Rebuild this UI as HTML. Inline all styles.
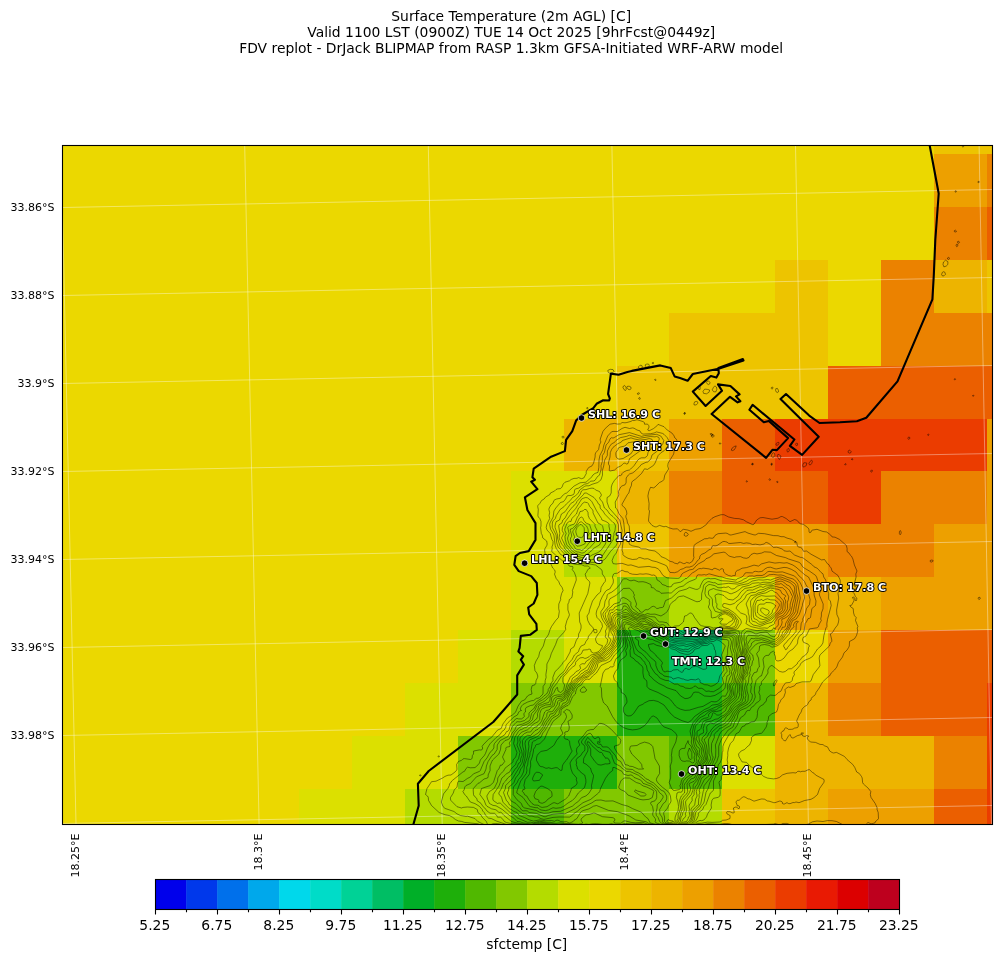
<!DOCTYPE html>
<html lang="en"><head><meta charset="utf-8"><title>Surface Temperature (2m AGL) [C]</title>
<style>html,body{margin:0;padding:0;background:#fff;overflow:hidden}svg{display:block}text{font-family:"DejaVu Sans","Liberation Sans",sans-serif;fill:#000}.t{font-size:13.89px;text-anchor:middle}.k{font-size:11px}.s{font-size:11.1px;font-weight:bold;fill:#fff;stroke:#000;stroke-width:2px;paint-order:stroke;stroke-linejoin:round}.g{stroke:#fff;stroke-opacity:.55;stroke-width:.7;fill:none}.c{stroke:#000;stroke-opacity:.6;stroke-width:.75;fill:none;stroke-linejoin:round}.b{stroke:#000;stroke-width:2.1;fill:none;stroke-linejoin:round;stroke-linecap:round}.d{fill:#000;stroke:#fff;stroke-width:.7}</style></head><body>
<svg width="1001" height="962" viewBox="0 0 1001 962">
<rect width="1001" height="962" fill="#fff"/>
<text class="t" x="511.2" y="21">Surface Temperature (2m AGL) [C]</text>
<text class="t" x="511.2" y="37">Valid 1100 LST (0900Z) TUE 14 Oct 2025 [9hrFcst@0449z]</text>
<text class="t" x="511.2" y="53">FDV replot - DrJack BLIPMAP from RASP 1.3km GFSA-Initiated WRF-ARW model</text>
<defs><clipPath id="ax"><rect x="62.5" y="145.5" width="930" height="679"/></clipPath></defs>
<g clip-path="url(#ax)" shape-rendering="crispEdges">
<rect x="60" y="140" width="940" height="690" fill="#EBD800"/>
<rect x="934" y="101" width="106" height="53" fill="#EDC400"/>
<rect x="934" y="154" width="53" height="53" fill="#EDA000"/>
<rect x="987" y="154" width="53" height="53" fill="#EB8200"/>
<rect x="934" y="207" width="53" height="53" fill="#EB8200"/>
<rect x="987" y="207" width="53" height="53" fill="#EB5F00"/>
<rect x="775" y="260" width="53" height="53" fill="#EDC400"/>
<rect x="881" y="260" width="53" height="53" fill="#EB8200"/>
<rect x="934" y="260" width="53" height="53" fill="#EDB400"/>
<rect x="987" y="260" width="53" height="53" fill="#EDC400"/>
<rect x="669" y="313" width="159" height="53" fill="#EDC400"/>
<rect x="881" y="313" width="159" height="53" fill="#EB8200"/>
<rect x="617" y="366" width="211" height="53" fill="#EDC400"/>
<rect x="828" y="366" width="212" height="53" fill="#EB5F00"/>
<rect x="564" y="419" width="53" height="52" fill="#EDB400"/>
<rect x="617" y="419" width="52" height="52" fill="#EDC400"/>
<rect x="669" y="419" width="53" height="52" fill="#EDA000"/>
<rect x="722" y="419" width="53" height="52" fill="#EB5F00"/>
<rect x="775" y="419" width="212" height="52" fill="#EB3C00"/>
<rect x="987" y="419" width="53" height="52" fill="#EDA000"/>
<rect x="511" y="471" width="106" height="53" fill="#DCE000"/>
<rect x="617" y="471" width="52" height="53" fill="#EDB400"/>
<rect x="669" y="471" width="53" height="53" fill="#EB8200"/>
<rect x="722" y="471" width="106" height="53" fill="#EB5F00"/>
<rect x="828" y="471" width="53" height="53" fill="#EB3C00"/>
<rect x="881" y="471" width="106" height="53" fill="#EB8200"/>
<rect x="987" y="471" width="53" height="53" fill="#EDA000"/>
<rect x="511" y="524" width="53" height="53" fill="#DCE000"/>
<rect x="564" y="524" width="53" height="53" fill="#B4DC00"/>
<rect x="617" y="524" width="52" height="53" fill="#EDC400"/>
<rect x="669" y="524" width="159" height="53" fill="#EDA000"/>
<rect x="828" y="524" width="106" height="53" fill="#EB8200"/>
<rect x="934" y="524" width="106" height="53" fill="#EDA000"/>
<rect x="511" y="577" width="106" height="53" fill="#DCE000"/>
<rect x="617" y="577" width="52" height="53" fill="#82C800"/>
<rect x="669" y="577" width="53" height="53" fill="#B4DC00"/>
<rect x="722" y="577" width="53" height="53" fill="#DCE000"/>
<rect x="775" y="577" width="53" height="53" fill="#EDA000"/>
<rect x="828" y="577" width="53" height="53" fill="#EDB400"/>
<rect x="881" y="577" width="159" height="53" fill="#EDA000"/>
<rect x="458" y="630" width="53" height="53" fill="#DCE000"/>
<rect x="511" y="630" width="53" height="53" fill="#B4DC00"/>
<rect x="564" y="630" width="53" height="53" fill="#DCE000"/>
<rect x="617" y="630" width="52" height="53" fill="#1EAF0A"/>
<rect x="669" y="630" width="53" height="53" fill="#00BE64"/>
<rect x="722" y="630" width="53" height="53" fill="#82C800"/>
<rect x="828" y="630" width="53" height="53" fill="#EDA000"/>
<rect x="881" y="630" width="159" height="53" fill="#EB5F00"/>
<rect x="405" y="683" width="106" height="53" fill="#DCE000"/>
<rect x="511" y="683" width="106" height="53" fill="#82C800"/>
<rect x="617" y="683" width="105" height="53" fill="#1EAF0A"/>
<rect x="722" y="683" width="53" height="53" fill="#50B800"/>
<rect x="775" y="683" width="53" height="53" fill="#EDB400"/>
<rect x="828" y="683" width="53" height="53" fill="#EB8200"/>
<rect x="881" y="683" width="106" height="53" fill="#EB5F00"/>
<rect x="987" y="683" width="53" height="53" fill="#EB3C00"/>
<rect x="352" y="736" width="106" height="53" fill="#DCE000"/>
<rect x="458" y="736" width="53" height="53" fill="#82C800"/>
<rect x="511" y="736" width="106" height="53" fill="#1EAF0A"/>
<rect x="617" y="736" width="52" height="53" fill="#82C800"/>
<rect x="669" y="736" width="53" height="53" fill="#50B800"/>
<rect x="722" y="736" width="53" height="53" fill="#DCE000"/>
<rect x="775" y="736" width="159" height="53" fill="#EDB400"/>
<rect x="934" y="736" width="53" height="53" fill="#EB8200"/>
<rect x="987" y="736" width="53" height="53" fill="#EB3C00"/>
<rect x="299" y="789" width="106" height="53" fill="#DCE000"/>
<rect x="405" y="789" width="106" height="53" fill="#B4DC00"/>
<rect x="511" y="789" width="53" height="53" fill="#50B800"/>
<rect x="564" y="789" width="105" height="53" fill="#82C800"/>
<rect x="669" y="789" width="53" height="53" fill="#B4DC00"/>
<rect x="722" y="789" width="53" height="53" fill="#EDC400"/>
<rect x="775" y="789" width="53" height="53" fill="#EDB400"/>
<rect x="828" y="789" width="106" height="53" fill="#EDA000"/>
<rect x="934" y="789" width="53" height="53" fill="#EB5F00"/>
<rect x="987" y="789" width="53" height="53" fill="#EB3C00"/>
</g>
<g clip-path="url(#ax)">
<path class="g" d="M61.1 145.5 L76 824.4"/>
<path class="g" d="M244.7 145.5 L259.1 824.4"/>
<path class="g" d="M428.3 145.5 L442.2 824.4"/>
<path class="g" d="M611.9 145.5 L625.3 824.4"/>
<path class="g" d="M795.5 145.5 L808.4 824.4"/>
<path class="g" d="M979.1 145.5 L991.5 824.4"/>
<path class="g" d="M62.5 119.5 L992.5 101.5"/>
<path class="g" d="M62.5 207.5 L992.5 189.5"/>
<path class="g" d="M62.5 295.5 L992.5 277.5"/>
<path class="g" d="M62.5 383.5 L992.5 365.5"/>
<path class="g" d="M62.5 471.5 L992.5 453.5"/>
<path class="g" d="M62.5 559.5 L992.5 541.5"/>
<path class="g" d="M62.5 647.5 L992.5 629.5"/>
<path class="g" d="M62.5 735.5 L992.5 717.5"/>
<path class="g" d="M62.5 823.5 L992.5 805.5"/>
<path class="c" d="M484.2 829 482.5 826.5 478 823.8 464.5 822.4 461.5 821.4 458.5 821 455.5 819.6 452.5 817.2 449.5 815.6 445 814.7 439.1 812.5 431.5 805.5 428.5 800.3 428.3 797.5 427.5 796 425.5 794.5 427 788.5 431.5 781.7 436 781.2 442.6 778 445 776.4 448 775.2 451 775 455 772 456.4 770.5 457 769.2 456.6 764.5 458.5 761.4 461.5 760.4 463 758.9 464.5 758.6 470.5 759.5 472.1 758.5 472.4 755.5 473.5 754 473.6 751 479.5 749.9 481 750.1 482.2 749.5 482.7 748 482.1 746.5 483 745 488.5 739.3 491.5 737.4 497.5 730.1 501.2 728.5 502.9 724 507.4 718 512.5 714.9 515.5 712.3 518.1 706 521.5 701.1 524.6 700 527.5 696 529 695 532 694 531.2 689.5 532 685.8 535 684.7 535.7 683.5 536.1 680.5 537.6 677.5 537.8 676 536.8 673 535 670.7 534.3 665.5 536 661 538.7 656.5 539.7 652 543.3 646 545.4 638.5 547 637 548.7 634 550 629.7 551.5 626.5 555.7 620.5 558.4 617.5 559.3 611.5 558.7 608.5 558.8 604 560.7 599.5 560.5 598 561.6 593.5 563.1 590.5 562.1 587.5 559.9 584.5 558.7 581.5 556.2 578.5 554.5 574.1 555.1 572.5 555.1 571 554.5 569.8 552.7 568 550 562 548.2 560.5 547.3 557.5 545.2 554.5 544.6 550 545 548.5 546.8 545.5 547.2 544 546.7 541 542.8 538 542.2 535 541.3 533.5 540.6 527.5 541 526 541 521.5 539.8 518.5 538.3 517 537.9 515.5 538.3 509.5 537.7 506.5 538 505.3 539.8 503.5 541.6 500.5 544.1 499 545.5 497.1 549.9 494.5 550.4 493 554.5 491.1 556 489.5 557.5 488.9 560.5 488.6 562.1 487 563.2 484 565 482.2 569.5 480.8 571.1 479.5 574 478.4 577 478.3 578.5 477.6 581.5 478.7 583.8 478 586.3 473.5 586.1 472 586.7 470.5 588.7 467.5 592 465.9 593.6 463 595.1 457 595.2 454 595.9 452.5 598.6 449.5 599.4 445 600.9 442 600.3 440.5 600.3 439 602.9 431.5 605.2 428.5 610 424.2 614.5 423.4 617.5 424.1 620.5 423.9 622 422.5 625 422.8 626.9 422.5 631 421.4 632.5 420.4 634 420.6 637 419.7 643 421.6 644.4 422.5 644.5 424.2 647.5 424.1 648.7 425.5 649.1 427 647.7 430 649 430.9 653.5 428.6 657.3 425.5 658 424.4 664 426.7 667.2 430 671.9 433 674.2 436 674.5 437.5 676 438.7 676.9 440.5 674.1 451 673.7 454 668.2 463 667.7 466 668.6 469 664.8 475 663.9 479.5 662.5 481.1 659.5 482.5 655 487 653.5 487.9 650.5 487.3 648.8 491.5 647.9 496 649.1 503.5 648.8 509.5 649.5 511 648.5 520 648.8 521.5 652 525.4 655 526.9 656.5 526.8 659.5 525.4 664 526.8 665.5 526.4 667 526.7 668.1 527.5 673 529 677.5 528.8 680.5 531.9 682 530.1 683.5 529.3 688 530.1 691 531.3 695.5 529.3 700 528.6 702.2 527.5 706.4 524.5 707.5 522.8 712 518.3 715 516.7 721 514.7 724 514.7 728.6 517 734.5 518.4 739 518.7 743.5 519.8 746.5 521.8 752.5 524.6 754 524.2 756.7 520 760 517.8 763 517.5 772 519.2 778 518.2 781 516.5 782.5 516.6 786.1 518.5 790 521.7 794.5 519.5 796.2 520 797.5 520.8 799.2 523 800.5 523.8 803.5 524.4 807.6 527.5 808.9 529 809.1 532 809.5 532.6 811 532.2 811.7 530.5 812.5 530.1 817 529.3 823 531.5 826.7 532 830.7 535 832 536.9 835 537.2 839.5 539.4 846.4 545.5 847.1 548.5 847 551.5 849 553 850 554.8 851.5 556.2 852.9 559 854.4 565 857 571 855.8 574 856.1 577 854.5 583 853.7 584.5 854 586 856 586.6 856.3 587.5 854.5 591.8 853 590.3 852.4 592 854.3 593.5 855.3 596.5 856.9 598 856.7 599.5 856 601 855.1 599.5 854.9 598 853 596.9 852.3 598 854.2 599.5 853.9 601 851.5 605.3 849.8 605.5 850.8 607 853.2 608.5 853.6 613 854.5 615.8 856.2 617.5 855.5 620.5 857.9 626.5 857.2 628 857.8 631 856.5 635.5 854.5 638.8 849.5 641.5 849.3 646 848.6 647.5 847 650.1 844 652.9 842.5 657 838.4 662.5 836.8 667 834.5 670 831.2 673 829.5 676 827.3 677.5 822.6 682 819.2 688 816 692.5 815.6 694 814.6 695.5 812.3 697 811.3 698.5 811.1 700 809 701.5 807.6 704.5 806.5 705.6 805 706.1 802.1 709 801.2 712 799.2 715 796.6 721 798.3 724 798.1 727 797.5 727.6 794.5 728.1 793 729.1 791.5 729.3 788.5 729.4 787 728.1 785.5 727.9 784.7 728.5 784 730.5 782 731.5 780.9 733 781.7 734.5 781.7 737.5 782.4 739 784 740.5 785.5 740.9 788.5 736 790 734.5 791.4 737.5 793 738.1 797.5 735.6 801.6 734.5 801 733 803.5 732.9 802.2 734.5 802.8 736 805 736.5 806.5 735.6 808.7 736 807.4 737.5 807.4 739 810.4 742 815.5 742.4 820 744.4 823 744.6 824.5 745.8 827.5 746.9 829.7 751 832 752.5 833.5 753 836.5 752.4 844 756.2 845.5 757.5 847 759.5 852.8 764.5 854.8 767.5 856.7 772 859.3 773.5 861.5 776.5 862.2 778 862.6 782.5 863.4 784 868 788 870.8 791.5 870.3 794.5 871 797.4 875.2 803.5 877 807.5 877.1 809.5 878.2 812.5 878.5 818.5 877.4 820 875.5 821.5 874.8 823 871 823.8 868 822.4 866.5 823.8 865.6 826 862 826.5 859 826.2 853 826.6 850 826.2 845.5 824.6 842.5 824.5 836.5 821.5 832 820.7 827.5 820.6 823 821.5 817 821 812.5 821.8 808 824.2 797.5 826.2 790 824.7 787 823.4 782.5 823.5 781 824.6 779.5 824.9 775 823.5 773.5 824.1 766 824.5 764.5 825.1 758.5 825.7 755.5 824.8 752.5 825.2 749.5 824.8 742 826.5 737.5 826.2 728.5 823.5 724 823.5 719.5 824.4 707.5 823.7 704.5 824.4 698.5 824.2 697 824.7 692.1 829.0"/>
<path class="c" d="M508.3 829 502 825.9 497.5 827.2 494.5 827.2 492.5 829.0"/>
<path class="c" d="M546.9 829 544 827.7 533.2 829.0"/>
<path class="c" d="M553.8 829 550 828.5 544 826.9 530.5 827.9 523 827.7 515.5 826.4 509.5 827.3 506.5 826.7 503.5 825.5 500.5 825.1 496 825.8 494.5 825.6 490 827.5 487 827.3 485.5 826.4 484 824.5 477.8 821.5 474.9 818.5 467.5 816.2 466 816.4 460.4 815.5 457 813.9 454 811.5 445 808.4 443 806.5 441.3 802 443.5 793.9 448 788.3 449.3 785.5 449.5 783.7 451 782.5 451.7 781 463 771.9 464.5 771.3 466 768.6 467.5 767.2 470.5 767.8 475 767.6 478 764.9 479.5 763 480.3 760 484.3 755.5 485.5 753.4 487.5 748 490 743.8 496.2 737.5 500.1 734.5 501.9 731.5 504.2 730 505.9 727 505.9 725.5 506.5 724.4 508.1 722.5 514 716.9 517.4 715 518.8 712 520 710.8 521.5 710.5 520.1 709 521.5 706.1 522.9 704.5 527.5 702.1 532 700.6 533.5 700.6 536.5 698.3 538 698.3 539.5 697.5 543 694 543.1 686.5 545.1 683.5 545.2 680.5 546.1 677.5 545.9 674.5 546.8 668.5 546.9 664 550 657.9 551.3 653.5 555.6 644.5 557.5 639.1 563.7 632.5 565.7 629.5 565.3 626.5 565.7 625 566.9 620.5 569.1 616 569.4 614.5 567.9 610 567.9 604 568.8 602.5 569.4 599.5 571.5 598 572.1 596.5 572.8 592 572.4 590.5 576.3 580 576 577 574.4 572.5 572.2 569.5 573 568 572.7 566.5 569.5 566.2 566.5 562.5 562 560.7 560.7 559 558.3 557.5 551.7 551.5 552.2 548.5 551.9 547 553 544 553 541.4 551.9 539.5 550.2 533.5 547 530 546.2 527.5 546.8 524.5 549.7 518.5 549.1 515.5 549.6 512.5 548.9 509.5 549.2 508 550.9 505 553 503.2 553.9 500.5 554.5 500 556.6 499 560.5 498.2 562 496.1 565 493.5 566.7 493 574 486.1 580 482.8 586 482.2 592 476.7 592.9 475 595 473.4 598 472.4 598.8 467.5 599 460 599.9 455.5 602.9 449.5 603.9 445 607.7 436 611.5 431.8 613 431.4 617.5 431.5 621.9 428.5 625 427.3 629.5 428.5 632.5 427.9 634 428.2 637 430 640 430.9 641 433 643 434.1 650.5 433.7 654.1 433 656.5 431.9 662.5 433.4 664 434.3 667.1 437.5 668.8 440.5 668.9 442 668.5 444.9 666.8 448 664 450.8 661.2 452.5 658.2 455.5 655.1 463 653.5 465.4 647.5 469.4 644.5 468.8 641.5 473.5 635.5 479.1 632.5 481.2 631.7 482.5 631.4 485.5 630 488.5 628.8 493 627.5 494.5 622 504.2 622 505.3 625 508 626.5 511 626.9 514 626 515.5 625.8 517 627 520 627.5 523 629.2 526 629.8 533.5 628.4 541 629.5 544.4 632.5 545.8 638.5 547 641.5 548.8 646 548.9 649 550.1 655 551 659.5 554.5 661 556.6 665.5 558.4 670 561.3 673 562 674.5 563.1 677.5 563.8 678.2 563.5 679 562 680.5 562.2 683.5 563.6 685 563.5 686.5 562.4 689.5 563.2 692.5 561.2 694 557.5 693.6 556 693.8 547 694.2 545.5 695.4 544 704.5 538.8 707.5 538.6 709 537.9 712 538.3 713.4 538 715 535.4 718 533.7 725.5 533.1 727 533.3 730 535 731.5 534.9 745 531.6 748 533.1 754 534.9 755.5 534.9 758.5 533.3 764.5 533.7 773.5 535.6 778 535.7 781 536.7 784 536.7 787 538.1 791.5 539.3 794.5 541.2 796 541.6 796.7 542.5 797.5 546.3 799 547.2 800.5 547.4 802.1 548.5 803.5 551.3 806.5 551 811 554.2 821.5 559.9 824.5 559.5 827.5 563.8 829 564.8 829.8 566.5 831.2 568 832 571.1 838 575.5 840.2 580 840.3 583 839.5 587.5 839.5 590.5 838.3 592 838 593.5 838.7 598 836.6 610 836.9 614.5 838.9 619 838.5 622 837.6 625 835.2 628 832.5 632.5 830.3 634 831.8 640 831.7 641.5 830.3 643 829.4 646 819.9 655 819.2 658 819.9 665.5 819.2 667 813.3 674.5 811 680.9 809.5 681.8 802 681.9 796.2 683.5 794.5 685.8 790 687.5 788.5 686.9 785.5 688.9 785 689.5 785.4 692.5 783.8 697 780.8 700 780.4 701.5 778.5 704.5 777.7 709 776.5 712 772 713.7 768.6 716.5 768.3 719.5 767 722.5 767.1 724 766.2 727 763 731.8 761.5 733.2 755 734.5 751.4 737.5 751.5 740.5 749.5 745.1 748 746 744.6 749.5 741.1 751 738.5 754 739 756.6 742 761.9 746.5 762.4 749.5 765.5 752.5 767.7 755.5 769.1 759.7 773.5 761.5 774.4 763.7 776.5 767.5 778.1 773.5 778.9 776.5 778.5 779.5 777.4 782.5 774.9 787 773.3 793 772.7 796 773 797.5 771.5 799 771.2 800.5 771.8 802 771.3 805 771.3 808 769.8 809.5 769.7 812.5 772.5 814 773.2 815.5 775 824 779.5 824.2 781 823.8 782.5 819.6 788.5 817.5 794.5 814 797.6 811 799.3 804.6 800.5 799 802.7 796 802 794.5 802.6 793 802.5 790 803.7 788.3 803.5 787 802.6 784 804.2 782.4 803.5 782.3 802 781 801.2 779.5 801.1 775 802.7 773.5 802.6 769 801.1 767.5 801 764.5 799.2 762.7 799 761.2 799 754 801.2 749.6 799 748 798.9 745 797 743.5 796.8 742.1 797.5 739 800.4 737.5 800.1 735.9 802 737.5 806 739 805.8 739.5 806.5 739.5 808 739 808.8 736 806.9 733.4 808 734.3 812.5 733 813.1 730 811.7 727 811.7 726.5 812.5 727 813.9 730.1 815.5 730 818.5 726.1 820 722.5 820.3 721.1 821.5 719.5 822 712 822.4 707.5 822.1 701.5 823.2 697 823.4 692.5 827.2 689.7 829.0"/>
<path class="c" d="M776.5 679.8 775.4 680.5 773.4 683.5 773.5 685.9 775 685.2 775.4 683.5 776.5 682.1 777 680.5Z"/>
<path class="c" d="M574 829 565 828.2 562 828.6 556 828.3 550 827.4 545.5 826.1 538 826.1 532 827 523 826.7 515.5 825.5 509.5 826.1 497.5 823.6 493 823.7 490 825.1 488.5 825.1 487.6 824.5 486.3 821.5 482 817 481 814.9 477.9 812.5 477.3 809.5 473.5 807.4 467.5 807 463 807.4 461.5 808 457 806.7 451 800.6 450.4 799 450.5 797.5 453.3 793 454.2 790 457 787.1 457.7 782.5 458.5 781.2 463 781.6 467.5 778.4 470.5 776.9 473.5 773.8 479.5 771.4 480.3 770.5 484.1 761.5 487 757.9 490 752.3 491.5 751.2 493.9 748 493.9 745 494.5 743.5 498.4 739 505 734.5 506.5 731.6 508 731.2 509 730 510.6 724 511.7 722.5 514 721.1 515.5 719 517 718.4 518.5 718.9 521.5 718.9 522.9 718 524.3 716.5 523.8 713.5 525.5 712 525.3 709 526.2 707.5 530.5 705.5 533.5 705 536.6 701.5 541.3 698.5 544 695.8 546.6 694 548.2 691 548.2 689.5 550.2 686.5 551 683.5 553 680.5 552.8 677.5 555.1 671.5 557.5 669.4 562 664.3 563 662.5 566 659.5 570.1 652 570.7 649 574 646.8 576.4 640 578.5 637 578.6 634 580.2 631 581.1 628 581 625 579.7 622 579.2 613 587.8 593.5 589.9 583 589.4 581.5 586.4 578.5 585.1 574 586.4 572.5 587.8 569.5 590.3 568 588.7 566.5 587.5 566 584.5 566 581.5 564.7 575.5 564.4 572.1 563.5 566.5 559 563.5 555.9 560.5 554.4 556.3 548.5 555.2 545.5 553.9 535 550.5 529 549.7 524.5 549.9 523 553.2 517 553.9 511 555.8 508 560.5 502.5 563.5 501.6 565.6 499 567 496 568 495.6 571 495.5 573.5 494.5 574.3 493 574.6 490 575.5 488.9 578.5 488.2 584.5 484.2 587.5 483.6 589.3 482.5 590.5 481.2 593.5 481 595 480.3 597.5 476.5 599.5 475.1 601.2 469 601 465.7 602.3 461.5 602.4 455.5 604.4 452.5 606.1 445 608.8 442 610 438.9 611.5 437.7 613 438.1 614.5 437.4 619 434.7 629.5 432.6 641.5 436.4 644.5 435.6 656.5 434.3 660.8 436 663.8 440.5 662.9 443.5 661 446.3 658 447.9 657.4 451 652 455 651 458.5 650 460 647.5 462.1 646 462.3 641.3 464.5 638.9 467.5 634 472 632.5 473 629.5 474 628.3 475 626.2 478 626.1 482.5 625.5 484 625 484.8 622 485.9 620.7 487 618.4 491.5 618.8 494.5 618.5 496 615.2 502 615.6 508 617.3 509.5 619.1 514 622.9 518.5 623.8 523 625.1 536.5 623 542.5 622 550 623 553 622.9 554.5 624.1 556 628 558.3 632.5 559.5 637 559.1 638.5 557.8 640 557.5 644.5 559 647.5 558.7 649 559.2 652 560.7 656.5 561.7 665 565 667 566.3 668.5 570.3 670 572.4 674.5 572.7 677.5 571.8 680.5 569.5 683.5 568.6 685 567.6 686.5 567.1 689.5 567.1 692.5 566 695.5 563.5 697 561.1 699.4 559 700 556 701.5 554.4 704.9 553 709 549.8 710.5 549.4 711.4 548.5 712 546.3 713.5 545.6 715 545.9 717.1 545.5 722.5 541.8 724 541.4 725.5 541.7 727 542.1 728.5 543.3 730 543.5 740.5 542.5 743.5 543.4 746.5 542.9 749.5 543.3 752.5 544.5 755.5 544.2 760 544.9 764.1 544 766 542.3 766.7 542.5 769 543.5 773.5 547.4 776.5 547.2 778 547.5 782.5 549.1 784 550.8 787 551.3 790 551 794.5 555 800.5 557.4 802 557.4 803.5 558.3 812.5 565 814 566.8 817 568.1 818.5 569.5 821.1 572.5 823 573.9 823.7 577 825.7 580 827 586 827.2 589 828.7 593.5 828.6 598 828.9 599.5 830.4 601 831.2 605.5 827.5 619.5 826.8 623.5 826.9 626.5 825.9 628 823.9 635.5 822.9 643 821 646 817.5 649 812.5 656.6 809.5 658.4 805 660.2 801.7 662.5 800.5 664 799.9 665.5 796.1 670 794.3 671.5 793.9 673 794.5 674.5 792.7 677.5 792.2 680.5 791.5 681.4 790 682.4 785.5 682.9 783 686.5 781 691.1 778.5 692.5 776.5 694.6 775 695.5 770.5 695.1 767.5 697.3 766.7 698.5 766.1 701.5 764.5 702.6 763.4 704.5 760.4 706 758.2 709 757.3 712 757.5 713.5 757 717.4 755 721 754 721.6 751 722 748 723.8 745.9 724 745 725.6 742 726.8 739 732.2 736 733.8 733.3 740.5 730.4 743.5 728.6 748 727.7 752.5 727.8 755.5 727.2 760 727.8 763 727.2 764.5 727 767.8 725.4 770.5 725.1 772 721.3 776.5 721.3 779.5 719.7 781 719 782.5 720 787 720.2 793 719.9 796 718 797.4 713.5 798.3 712 800.2 711.1 805 711.5 808 707.5 814 706.5 817 703.9 820 701.5 820.7 700 820.4 698.5 821 695.5 822.8 692.8 826 691 827.3 685.7 829.0"/>
<path class="c" d="M578.9 829 571 827.1 557.5 827.4 550 826.4 545.5 825.3 538 825.4 532 826.3 523 825.7 515.5 824.6 506.4 824.5 496 820.9 491.5 818.6 488.5 818.1 485.5 815.2 484.2 812.5 482.7 811 482.2 809.5 479.5 806.4 475 803.6 470.3 802 466.3 796 464.6 794.5 462.9 791.5 464.1 790 464.8 787 466 785.5 470.5 783.5 476.5 776.8 484 773.7 486 769 486.4 766 488.1 761.5 492 755.5 494.2 754 497.1 749.5 497.3 745 500.2 740.5 508 736.5 512.5 726.3 516 722.5 517 721.7 520 721.9 524.5 720.5 529 716.6 529 713.1 532 710 533.6 709 536.1 704.5 539.5 701.5 542.5 699.9 547 696.5 549.1 694 551 688 553 684.3 557.7 677.5 559 675.7 564 671.5 568 664.1 572.1 659.5 574.4 655 578.5 651.6 579.3 649 581.1 646 584.6 644.5 585.9 641.5 588.1 638.5 588.2 637 588.9 635.5 590.7 634 593.5 629.7 594.2 632.5 595 632.9 596.7 632.5 597.1 631 596.5 629.6 593.5 629.4 593.2 628 592.1 626.5 590.1 625 587.8 620.5 587 616 589 613 589.5 610 592.5 601 597 595 600.5 592 601.1 587.5 603.8 583 605.2 581.5 605.5 579.6 604.5 577 602.3 574 602.2 571 601.4 569.5 595.5 565 589 563.9 583 563.7 580 562.7 575.5 562.1 571 559.7 566.5 556.2 558.1 547 556.7 542.5 556.1 535 552.3 527.5 552.3 523 553 520.9 555.3 518.5 556.3 515.5 560.1 509.5 564.2 506.5 566.5 503.8 570.3 500.5 572.5 497.5 575.5 495.9 578.3 493 579.7 490 584.5 486.4 586 485.8 589 485.8 592 484.3 597.8 482.5 601 479.8 602.5 475 602.4 470.5 603.7 466 604.7 460 607.3 455.5 607.4 451 609.6 446.5 611.5 443.9 614.5 442.4 616 440.4 620.5 437.6 626.5 436.4 629.5 435.2 640 438.2 650.5 436.5 655 436.9 656.5 436.4 658.9 437.5 659.3 439 658 442.5 655 445.6 652 446.9 650.9 449.5 648.8 451 648 452.5 647.5 455.4 646.1 457 644.5 457.8 641.5 457.8 639.7 458.5 637.9 460 634 465.7 630.7 469 629.5 470 626.5 470.6 623.5 472.1 622.1 473.5 621.6 475 620.5 475.6 619 475.4 614.5 480.3 612.2 484 611.3 487 611.2 493 609.7 496 607.1 497.5 607 502 609.1 508 619.7 520 622.1 530.5 621.5 535 621.8 538 620.7 541 620.5 544 618 548.5 616.3 553 613.9 556 612.7 559 612.1 560.5 613 563.6 616 564 622 563.3 628 565.3 631 564.9 638.5 567.3 649 566.4 652 567.2 655 567.4 658 568.8 659.5 570.1 663 575.5 667 577.9 677.5 578.4 679 578.2 680.5 577 681.9 574 683.5 572.8 689.5 569.9 692.5 569.4 694 568.5 695.4 566.5 698.5 563.8 704.5 560.6 706 558.7 709 557.6 711.7 556 713.5 553.9 724 552.1 725.5 552.8 728.5 555.6 730 556.4 734.5 557.5 736 556.9 740.5 556.6 743.5 557.9 746.5 558.3 748.8 557.5 751 554.6 754 553.2 757 553.9 761.5 553.1 764.5 551.8 770.5 552.2 776.5 555.5 785.5 557.6 788.5 559 799 562.3 800.7 563.5 802.4 566.5 804.2 568 809.5 571.1 815.5 575.3 816.6 577 818 581.5 820.8 586 820.9 590.5 819.4 593.5 819.4 595 823.2 604 823 608.8 821.4 613 821.4 616 820.7 619 821.3 620.5 818.8 625 818.5 626.6 817 627.8 809.5 628.9 806.4 635.5 805 636.7 803.5 637 802.8 638.5 802.5 640 803.5 642.3 808 644.1 809.5 646 808.5 647.5 807.9 652 805.6 655 802 657.3 800.6 659.5 797.7 662.5 797.2 664 793 667.5 791.5 668.7 788.5 668.9 785.5 671.3 784 671.9 782.5 672.1 779.5 671.4 772 665.4 770.5 665.9 769 667.7 767.8 670 768 673 764.5 678.4 761.3 682 761.5 684.2 759.6 686.5 759.7 689.5 758.8 692.5 760 695.5 760.1 700 758.7 701.5 756.1 703 754 705.8 751.3 707.5 749.7 710.5 748 710.3 746.5 711.2 744.5 715 740.5 717.8 737 725.5 735 728.5 729 734.5 723.9 743.5 722.9 746.5 722.9 751 722.3 752.5 721.8 758.5 720 763 718.3 764.5 717.6 769 716.5 771.1 716.2 775 713.5 781 713.5 790 712.4 791.5 710.3 793 706 804.4 703.9 806.5 702.7 809.5 698.8 812.5 698.2 814 698.4 815.5 696.3 820 693.5 823 691.4 826 689.5 827 683.5 828 680.7 829.0"/>
<path class="c" d="M656.7 829 653.5 828.2 646 828.2 644.5 827.5 641.5 827.2 638.5 827.9 637 827.2 632.5 826.8 628 827.4 626.5 829.0"/>
<path class="c" d="M627.1 439 631 437.8 634 438.9 640 440.1 646 439.4 649 438.6 651.6 439 652.5 440.5 652 441.4 649 443.4 647.5 445.1 644.5 447 643 449.9 639.9 451 629.6 458.5 628 463.5 626.5 464 625 463 623.5 463.4 620.9 466 617.5 467.4 614.5 470.1 610 471 609.2 470.5 609.6 466 608.7 464.5 608.4 463 610 457 610.3 452.5 611.6 449.5 613 447.4 617.5 443.9 621.4 442 622.4 440.5Z"/>
<path class="c" d="M589.5 488.5 592 488.1 594.1 488.5 595.6 490 599.5 491.5 601.3 494.5 601.1 496 599.7 497.5 599.9 499 602.5 502 604.4 508 607 510 609.7 514 613 516.6 616.3 520 618.4 524.5 618.7 533.5 618.2 535 618.6 538 617 544 616.1 545.5 610.5 551.5 605.2 559 601 561.7 596.5 562.5 586 562.2 577 560.7 569.4 556 560.5 547 559.8 545.5 557.5 538 557.6 535 555.1 527.5 555 526 556 521.7 559.5 520 561.4 514 565 511.8 570.8 503.5 574 501.6 579 496 580.1 494.5 581.5 491 583 489.8 586 489.6Z"/>
<path class="c" d="M582.4 829 577 827.1 572.5 826.1 565 825.9 557.5 826.5 544 824.5 538 824.6 532 825.6 512.5 823.7 506.5 822.6 504.4 821.5 502.2 818.5 500.5 817.2 497.5 817.2 496.8 815.5 494.5 813.3 490 813.2 487 811 484.8 808 482.9 806.5 481 803.4 477 800.5 477 799 476 797.5 474.1 796 473.5 794.5 473.2 790 473.4 788.5 478 783.3 479.5 782.8 484 779 487.6 778 488.2 776.5 488.1 775 490.1 770.5 490 766 491.8 761.5 492.6 760 498.9 754 500.5 749.5 501 745 505 740.5 508 739.6 509.5 738.6 512.1 733 514.8 730 515.9 727 517 725.5 522.7 724 529 721 530.1 719.5 531.6 713.5 535 710.1 536.6 706 538 704.5 542.5 702.4 545.5 700.5 548.5 697.4 551.2 694 553 688 556.7 683.5 561.5 676 565.2 673 569.1 667 572 664 575.3 659.5 577 656.1 580 654.7 581.5 653.5 583 650.1 587.5 649.7 589 649 590.5 649.5 591.3 652 593.5 653.1 595 652.9 598 651.9 599.7 650.5 601.9 647.5 602.5 645.7 598.9 644.5 596.8 643 595.6 640 595.6 638.5 598.1 634 599.7 632.5 602.5 626.5 601.9 623.5 599.5 620 597 617.5 596.2 614.5 596.2 613 596.9 610 599.2 605.5 600.3 601 602.4 596.5 605.5 591.4 607 590.1 609.7 589 613.2 583 613.4 580 612.4 577 613.6 574 614.5 573.5 617.5 573.2 622 570.1 625 571.6 628 571.9 629.5 573.3 632.5 574.2 637 574.5 640 573.9 643 574.2 646 573.8 649 574.2 652 575.3 653.5 575 655.2 575.5 656.3 577 657.1 580 659.9 581.5 662.3 584.5 665.5 585.5 667 586.5 670 586.9 671.5 586.4 672.5 584.5 674.5 583.3 680.5 582.2 683.5 580.3 685 578.7 686.8 578.5 692.5 572.7 694 572.1 698.5 568.9 700 568.5 701.5 568.7 703 568.1 709 568.9 712 569.8 713 569.5 713.5 568.6 715 568.2 719.5 570.2 721 568.8 722.5 568.8 723.5 569.5 723.4 571 724.1 572.5 725.5 573.9 728.6 575.5 731.5 576.2 733 575.6 735.3 575.5 735.5 572.5 736 571.5 737.5 570.3 739 570 742 568.2 746.5 567.6 754 565.1 758.5 566.1 761.5 563.9 769 561.9 775 563.1 779.5 562.6 784 563.1 787 562.7 793 565.1 796 567.1 805 575 808.5 577 812.9 586 814.1 590.5 814.1 595 816 601 815.5 605.5 811.9 608.5 810.5 617.5 809.5 618.3 808 618.7 806.4 622 805.1 623.5 804.1 631 802.2 634 799.9 635.5 798.9 637 797.8 640 797.6 643 796.8 644.5 793 649 788.5 651.9 784 658.1 781 660.3 778 661 776.5 660.6 775.6 659.5 775.4 656.5 774.2 653.5 774.5 652 773.5 651.2 770.5 652.6 769 655.2 766 655.5 764.5 656.5 763.5 658 763 659.5 764.1 667 761.5 675.8 760 676.2 756.1 680.5 754.4 688 754.3 691 755.3 697 753.5 701.5 751 704.5 746.5 707.8 740.5 710.3 739.1 712 737.7 715 737.3 718 734.5 722.5 733 727 728.2 730 721.6 739 719.5 743.8 718.7 746.5 718.7 755.5 716.8 761.5 714.7 764.5 714.4 773.5 709.8 782.5 708.2 788.5 706 792.3 704.1 802 703.4 803.5 701.5 805.8 700 808.5 696.5 811 695.7 812.5 694.4 820 691 824.6 689.5 826 683.5 826.3 680.5 827.6 678.7 829.0"/>
<path class="c" d="M659 829 655 827.5 646 826.8 644.5 826 632.5 825.7 628 826 625 826.7 624.3 827.5 623.9 829.0"/>
<path class="c" d="M632.8 442 634.9 442 638.2 443.5 638.1 445 634.8 448 630.7 454 623.1 458.5 619 459.2 617.5 458.5 616.2 457 615.8 454 616 452.4 618 449.5 618.3 448 620.5 447 625 446 628 442.8Z"/>
<path class="c" d="M584.4 493 586.3 493 594 497.5 597.5 502 598 503.5 600 505 600.2 508 601.2 509.5 603 511 604.7 514 607.6 517 613 522.5 614.5 523.3 615.5 526 615 530.5 613.8 533.5 614 535 613.4 536.5 613.2 539.5 602.5 555.6 601 557.1 599.5 557.8 589 560.4 583 560.3 580 558.9 577 558.6 569.5 553.6 565 548.9 563.5 546.1 561.6 544 559.1 538 559.8 533.5 558.7 526 559 524.8 562 522.8 562.8 520 565 518.1 567.9 512.5 572.5 506.9 573.3 506.5 574.2 505 576.2 503.5 577 501.4 583.5 494.5Z"/>
<path class="c" d="M660.2 829 658 827.6 655 826.7 641.5 825 623.5 824.9 620.5 825.8 611.5 825.4 607.8 826 607 827.7 605.3 827.5 606 826 598 824.9 593.5 824.8 592 825.2 589 827.6 587.5 826.7 586 826.4 581.5 826.7 572.5 825.2 565 824.8 556 825.6 553 824.7 547 824.3 545.5 823.8 539.5 823.4 532 824.9 517 823.1 511.5 821.5 504 815.5 501.4 812.5 500.5 812.2 499 812.5 496 809.8 491.5 808.8 487 806.3 485.9 805 484.2 800.5 479.9 794.5 480.2 793 481.5 788.5 490 785.6 493.4 782.5 497.3 770.5 498.8 769 500.5 765 502 765.2 504.7 761.5 502.5 757 505.9 749.5 505.8 748 506.5 747.2 509.8 746.5 510.1 745 509.4 743.5 509.8 742 511.1 740.5 514.3 733 518.5 728.2 522.9 725.5 526 724.6 529 723 531.2 721 532.5 719.5 533.5 715 538 709 538.6 706 539.5 705.3 542.5 704.7 544 703.7 548.5 702.5 550 700 550.1 697 554 692.5 556 688.3 557.5 687.4 558 691 560.5 692.5 562.7 691 563.7 689.5 564.6 685 562.8 682 563 677.5 564 676 566.5 673.8 568 671.4 572.6 667 574.9 665.5 575.6 664 575.6 662.5 577 660.5 580 657.9 583 657.5 584.5 658.3 586 658.3 589 656.8 590.8 655 595 654.3 599.5 652.5 601.9 650.5 607 643.5 607.8 640 607 638.6 605.1 637 606 634 605.4 631 607 628.2 607.1 626.5 603.1 620.5 601.6 617.5 600.8 613 601 611.5 604.2 607 605.1 601 606.8 598 607.2 595 608.7 593.5 611.5 592.3 615.9 589 619.9 584.5 622.4 580 623.5 578.8 626.5 578.8 629.5 580.5 631 580.8 634 580.1 638.5 581.9 643 581.7 646 582.4 650.5 584.4 651.3 586 651.3 587.5 653.5 587.9 656.5 590.7 659.5 591.6 661 593.3 668.5 592.8 670 593.1 671.5 592.8 676 588.8 679 587.1 683.3 586 686.5 583.3 689.5 581.5 695.5 579.2 696.1 578.5 697 575.5 698.5 574.8 701.5 575 704.5 574.6 706 575.1 709 573.8 719.5 576.7 721 576.7 726.5 578.5 736 580.1 737.5 578.7 742 577 743.6 575.5 745 573.1 746.5 572.7 752.5 572.9 754 571.6 755.5 571.3 758.5 571.8 761.5 571.5 763 570.8 764.5 569.1 767.5 567.5 770.5 567.2 775 568.8 776.5 568.9 784 567.4 787 567.7 791.5 569.4 796 572 799 576 800.6 577 804.5 581.5 805.8 584.5 807.8 587.5 808 592 810.1 599.5 809.5 604.5 806.5 608.6 805.4 613 802.7 619 802.8 620.5 801.2 623.5 800.5 630.1 792.8 640 790.1 644.5 787.6 647.5 787 649 785.5 649.7 784.5 647.5 784 647.3 783.6 646 784 644.5 785.9 643 788.1 640 791.5 636.9 796 631.5 796.3 623.5 798.4 622 797.5 621 795.1 622 794.5 623 793.4 625 793.9 626.5 792.9 628 790.9 629.5 789.2 634 783.9 640 778 645.4 775 646.6 772 647.2 769 645.3 764.5 644.5 761.5 645 759.7 646 759.1 650.5 756.7 653.5 757 655 758.5 658 759.4 667 757.8 668.5 757 671.9 754 672.8 751.5 677.5 752.3 682 750.7 685 751.3 686.5 750.7 691 750.8 692.5 752 694 752.4 695.5 752 698.5 750.4 701.5 748 704.2 740.5 708.4 739 709.7 734.7 716.5 734.5 718 732.2 721 730.5 725.5 725.5 728.3 721.3 731.5 719.5 734.5 715.4 745 715.8 749.5 715.6 757 712.4 764.5 712.9 772 710.5 777.6 704.2 785.5 703.7 787 703.9 790 703.2 791.5 700.8 803.5 699.1 806.5 697 808.2 693.7 812.5 693.8 815.5 692.7 820 691 822.7 688.9 824.5 688 824.9 683.5 825.2 680.9 826 675.9 829.0"/>
<path class="c" d="M585.7 497.5 587.5 497.8 590.9 500.5 592 501.9 596.5 510.7 601.5 518.5 601.9 520 605.9 521.5 608.5 523.2 609.1 524.5 608.9 526 609.9 530.5 607.6 539.5 606.3 541 605.4 544 601.3 550 598 552.5 592 555 588.4 557.5 584.5 558.3 577 556.1 571 552.5 565.1 545.5 561.5 538 563.7 533.5 562.2 530.5 562.4 527.5 565.4 521.5 572.1 512.5 575.5 508.8 581.5 499.2 583 498.3Z"/>
<path class="c" d="M661.6 829 659.7 827.5 656.5 826.3 647.5 825.1 641.5 823.7 631 824 625 823.4 620.5 824.7 614.5 824.5 611.5 823.7 608.5 824.3 602.5 824.3 596.5 823.6 592 823.8 589 824.5 586 824.1 581.5 825.1 578.5 825.3 565 824 556 824.6 553 823.8 547 823.5 544 822.7 539.5 822.3 532 824 523 822.9 520 821.7 517 821.5 514 818.2 509.5 815.5 502.4 809.5 496 805.8 493 805.4 489.5 803.5 487.5 799 486.8 796 489.5 791.5 494.2 788.5 497.5 781.7 497.8 778 500.5 773.8 503.5 771.2 505 768.2 512.5 762.4 513 761.5 513 760 515.7 757 517 752.5 513.6 743.5 514.8 737.5 518.4 731.5 520 729.9 521.5 729.6 524.5 727.8 526 727.6 533.5 721.8 535 719.9 536.5 719 537.6 716.5 537.4 713.5 540.2 707.5 545.5 705 550.6 704.5 551.9 697 554.5 695.5 557.5 694.9 560.5 694.9 562.5 694 565.1 691 567.3 683.5 570.1 677.5 571.3 676 573.6 674.5 576.1 671.5 578.5 670.5 580.6 668.5 579.8 665.5 581.3 664 583 663.6 584.5 664.1 586.5 661 589 659.6 592 656.7 601 653.6 603.7 650.5 605.5 647.5 608.5 645.1 611 640 610.2 638.5 608.2 637 609.3 631 609.1 628 607.9 625 603.8 617.5 602.9 614.5 603.1 613 609.1 605.5 608.9 601 610 598.7 616 595.4 623.5 588.5 629.5 588.2 633.3 592 633.6 593.5 634.5 595 633.8 596.5 636.6 604 635.6 607 639.3 610 639.9 611.5 641.5 612.3 643 612 644.5 610.2 646 609.6 647.5 609.8 649 609 652 606.6 653.5 606.3 655.2 607 656.5 608.3 658 608.5 659.5 607.8 662.5 607.4 663.3 607 665.5 600.6 671.5 597.9 679 591.2 686.5 589.1 689.5 587.3 695.5 589.3 697 589.4 698.5 589 700 587.5 700.3 586 703 580.7 704.5 579.4 707.5 578.4 709 578.3 710.5 578.8 715 578.5 721 580.7 728.5 581.1 737.5 582.4 742 580.5 743.5 579.2 746.5 578 748 576.6 749.5 576 752.5 575.9 754 576.3 757 575.4 762.1 575.5 764.5 574.4 767.5 571.9 769 571.4 776.5 572.2 782.5 571.9 794.5 576 797 578.5 800.4 583 802.4 587.5 804.4 596.5 804.5 598 802.5 604 802.4 605.5 799.3 614.5 796.1 619 792.7 620.5 791.3 623.5 790.5 626.5 786.4 634 784.8 635.5 783.1 638.5 778 643.4 776.5 644.5 773.5 645 770.5 643.7 763 642.2 758.5 643.1 755.5 644.7 750.1 650.5 749.6 652 750.7 653.5 752.7 655 753.5 659.5 752.5 661.5 751.7 665.5 750.1 667 750.5 670 749.5 673 750.1 674.5 748.9 677.5 748.5 682 746.7 686.5 747 691 748.4 695.5 748 700.5 746.3 703 740.5 705.9 739 707.4 734.5 713.4 732.2 718 727.9 724 722.5 727.5 719.5 728.5 718 730.9 716.7 731.5 714.2 734.5 714.3 737.5 711.6 743.5 711.4 751 712.2 755.5 713.2 757 711.8 761.5 709.9 764.5 710 767.5 710.7 770.5 710.5 772 709 775.8 704.4 779.5 699.1 790 699.9 793 699.1 794.5 699.2 797.5 698.7 799 698.4 805 696.1 806.5 694 809 693.1 809.5 692.3 812.5 692.4 815.5 691.3 820 690.4 821.5 688 823.6 683.5 824.2 673 828.6 670 828.7 667 828.2 665.1 829.0"/>
<path class="c" d="M582.4 503.5 584.5 502.1 587.5 502.7 588.3 503.5 589.7 506.5 592.3 509.5 593.1 511 593 512.5 593.5 513.9 598 523 601.1 524.5 602.6 526 604.2 533.5 602.9 536.5 602.4 539.5 599.5 545 593.5 548.4 592.4 550 586 555.2 584.5 555.7 581.5 555.3 575.5 553.3 571.1 550 569.5 547.3 567.2 545.5 566.5 544.1 565.3 539.5 565 536.5 566.2 533.5 564.9 530.5 564.8 529 567.1 523 569.5 521.3 571 521.5 571.8 518.5 576.4 514 578.5 508.1 580.4 506.5Z"/>
<path class="c" d="M768.1 575.5 769 574.8 773.5 574.4 778 575.1 781 574.9 784 575.7 787 577.2 793 579 794.5 579.9 797.1 583 797.8 584.5 800.3 598 797.4 613 794.5 617.5 792 619 790 622 789.1 626.5 784.4 634 783 635.5 782.4 637 781.3 638.5 776.5 642.6 775 643.3 773.5 643.3 761.5 639.6 758.5 640.3 755.5 640.2 751.7 643 751 646 748.5 649 747.6 652 748 653.7 749.5 655 750.4 659.5 749.5 661 749.3 664 748.7 665.5 748.5 668.5 747.6 671.5 747.8 674.5 746.5 676.5 744.9 677.5 745 679.7 745.8 680.5 746 682 744.5 688 746 695.5 745.1 698.5 745.5 700 745.2 701.5 738.5 706 733.3 712 730 718 726 722.5 722.5 724.8 719.5 725.7 718 726.8 712.5 731.5 711.5 733 710.6 736 708.7 739 708.3 742 709 748 709 753.7 710.4 757 710.5 758.5 710.3 760 708.4 763 707.5 766.5 705.9 769 707.2 770.5 707.1 773.5 704.5 776.1 701.5 778 699.7 784 697 789 696.3 791.5 697.1 796 695.6 799 694.7 805 691.7 808 691 809.5 691.4 815.5 691 817.3 689.5 820.7 688 822.2 686.5 822.9 683.5 823.3 674.5 827.2 667 827.3 664 828 656.5 825.6 648.3 824.5 643 822.3 635.5 822.8 631 822.4 625 820.8 623.5 821 621.5 823 620.5 823.3 614.5 823.1 613.8 821.5 615 820 614.5 818.6 613 817.7 602.5 816.7 595 813.2 593.5 813.1 589 814.5 586 814.8 584.5 815.9 581.5 818.5 580.9 820 582.7 823 581.5 823.7 578.5 824.3 559 823 556 823.5 550 822.3 547 822.4 539.5 821.2 533.5 822.8 530.5 822.2 527.5 822.3 517 817.8 515.2 815.5 510.1 812.5 500.5 803.3 499 803 497.5 803.5 493.3 800.5 492.8 799 493.2 794.5 499 786 501.9 778 505 775.4 506.5 773.6 509.5 772.2 511.1 769 515.5 764.6 516.6 761.5 518.5 758.7 520 752.5 516.9 745 517.9 742 517.6 737.5 518.2 736 521.5 732.2 527.5 729.8 532 725.8 533.3 724 538 721.8 539.7 719.5 539.9 713.5 541 710.1 542.5 708.7 545.4 707.5 551.5 705.9 553 704.5 552.7 701.5 554.5 698.1 557.5 696.6 562 696.2 563.5 695 567.1 689.5 568.6 685 571.2 682 572.5 678.2 578.5 674.1 580.2 671.5 586 667.9 593 658 601.1 655 605.5 650.5 606.1 649 608.6 647.5 610.2 646 613.3 640 613.5 637 613 635.2 611.2 632.5 610.4 628 605.7 617.5 605.2 614.5 605.5 613 606.9 611.5 607.4 610 608.5 608.8 611.2 607 613 604.8 614.5 603.8 619.3 602.5 620.5 601 620.4 599.5 621.5 598 623.5 597.5 626.5 598.8 629.6 601 630.9 602.5 630.8 605.5 632.3 608.5 638.5 613.3 644.5 614.8 647.5 613.5 650.5 614.3 655 614.1 661 616 665.5 613.2 667 611.7 668.9 608.5 670 604.8 671.8 602.5 676 599.6 677.5 597.4 679.5 596.5 683.5 595.9 695.5 601.3 697 601.8 700 601.2 701.5 599.5 701.7 593.5 703.1 589 703.4 586 704.5 584 707.5 581.9 709 581.6 713.5 582.8 715 582.6 718 584.5 728.5 583.3 737.5 584.1 742.1 583 746.5 581.3 749.5 579.3 757 577.8 763 577.7 765.5 577Z"/>
<path class="c" d="M724 613.9 719.5 615.9 718.6 617.5 719.5 619.1 722.5 618.6 723.2 619 719.9 622 720.2 623.5 721 624.1 727 624.2 729.2 622 732.4 620.5 733 619 731.8 617.5 728.5 615.3 725.5 613.8Z"/>
<path class="c" d="M584.4 509.5 586.2 509.5 588 512.5 588.2 515.5 589.4 518.5 595 524.4 594.9 526 597.9 532 597.6 533.5 596.6 535 598 538 597.3 539.5 589 548.5 587.5 549.3 584.5 552.4 583 553 581.5 553 578.5 552 577 552 575.5 551.1 572.5 548.6 569.1 544 567.7 539.5 567.6 538 569.1 533.5 567.7 527.5 569.5 525.7 574 524.1 575 523 577.4 517 578.6 515.5 580 511.6 583 510.9Z"/>
<path class="c" d="M774.3 578.5 779.5 577 781 577 790 580.4 794.5 583.4 795.4 584.5 796.2 586 796.4 592 798.1 598 796.1 607 795.7 611.5 793 615.7 791 617.5 788.3 622 787.8 623.5 788.2 625 787 627.7 785.5 629.7 783.5 631 782.5 632.4 782.2 634 780.6 637 776.5 640.5 775 641.4 770.5 641 767.5 639.4 761.5 637.9 758.5 638.4 755.5 638.2 754 638.8 751 638.4 748 643.3 747.4 644.5 748.1 646 747.9 647.5 746.8 649 746.3 652 746.4 653.5 748.6 658 748.5 659.5 747.1 665.5 746.9 668.5 745.9 671.5 746.3 673 745.9 674.5 744.1 676 743.5 677.5 742.3 688 743.3 692.5 743.1 695.5 743.6 697 742.6 700 742 701.5 740.5 703 734.5 707.4 730 713.6 727 715.9 724 720.8 715 725.7 711.1 730 710.5 731.5 708.8 733 707.5 736.4 704.4 739 704.4 740.5 706.4 745 707.2 751 707 754 708.1 760 706 763.9 702.5 769 702.5 772 701.3 775 698.4 781 697.5 784 695.2 787 694.8 790 694.1 791.5 694.1 794.5 692 797.5 692.2 800.5 689.2 805 689 806.5 689.5 809.5 689 811 689.9 815.5 689.5 816.3 688.4 817 688.2 818.5 686.6 821.5 683.5 822.1 677.5 825.5 674.5 826.4 664 826.8 656.5 825 649 823.7 646 821.7 635.8 820 629.5 816.1 626.5 814.8 617.5 811.7 608.5 810.4 596.5 805.5 593.5 806.2 589 808.9 583 810.6 581.5 811.5 580.5 812.5 576.9 818.5 574 820.3 573.2 821.5 569.9 823 569.1 823 566.5 821.6 563.5 821.9 560.5 821.6 559 820.5 557.5 820.2 556 820.4 554.5 821.3 551.5 820.5 545.5 820.8 539.5 819.9 533.5 821.1 529 819.8 524.5 817.5 519.2 815.5 517.1 812.5 514 811.5 511.3 809.5 509.5 808.8 503.5 802.8 502.9 802 501.6 797.5 500.8 796 499 794.5 498.8 793 501.4 788.5 503.5 783 505.6 781 507.7 778 511.4 775 515.5 768.5 517 767.5 518.5 763.4 520 762.5 520.5 761.5 520.8 758.5 522.1 755.5 522.2 754 521.7 751 519.6 745 520.4 742 519.8 740.5 520.1 737.5 524.5 733.5 527.5 732.1 530.5 732 533.5 728.1 535 727.1 536.8 727 537.4 725.5 539.6 724 541.6 721 544.7 712 546.3 710.5 548.5 710.1 550 709.3 551.2 707.5 554.1 706 556 699.6 557.5 698.5 562 698.1 563.5 697.1 569.5 688 570.2 685 574 680.2 578.5 677 581.5 673.5 583.1 673 584.5 671.4 588 670 589.9 665.5 593.5 659.4 602.5 655.6 604 653.4 611.5 647.1 614.7 640 615.5 637 614.1 632.5 612 629.5 611.4 626.5 609.2 622 608.1 617.5 607.8 616 609.7 610 613 609.9 614.8 607 623.5 603.4 625 603.3 626.5 603.7 628 604.8 629.9 608.5 632.5 611.9 640 615.3 644.5 616.1 647.5 615.8 650.5 616.6 655 617 658 621 659.5 621.9 662.5 621.9 667 622.8 670 626.6 671.5 627.3 673 627.2 674.5 626.1 679 625.8 683.4 622 684.6 616 686.5 615.6 689.5 613.3 691 612.9 693 614.5 694.5 617.5 700 625 701.5 625.7 704.5 626.4 709 626.5 713.5 628 715 627.7 718 628 719.5 626.7 724 625.7 727 626.5 729.1 626.5 730 626.3 733 623.5 734.1 622 734.5 620.5 733.6 617.5 729.8 614.5 725.5 612.6 724 612.6 719.1 614.5 716.5 617.1 712 618 711.4 617.5 711.1 611.5 708.3 607 709.5 604 709.2 601 709.7 599.5 706 596.8 704.9 593.5 705.6 587.5 706.6 586 709 584.5 710.5 584.6 715 585.7 718 587.7 721 587.8 724 587.1 725.5 587.5 728.5 586.7 731.5 588.9 733 589 734.5 588.5 737.5 586.1 740.5 585.1 748 583.7 752.5 581 758.5 579.8 763 580.1 767.5 579.5 770.5 580.1Z"/>
<path class="c" d="M635.5 789.8 634.5 791.5 640.8 796 644.7 796 646.2 794.5 644.5 793 637 790.9Z"/>
<path class="c" d="M581.2 517 581.8 517 583 518.3 583.5 520 585.9 523 589.6 524.5 592 532 592.2 533.5 591.8 535 593.6 538 592 540.7 589 542.6 587.1 545.5 584.3 548.5 583 549.8 581.5 550.4 580 549.6 577 549.5 575.5 548.8 573.7 545.5 571 542.5 570.4 539.5 570.6 538 571.6 536.5 571.6 535 570.3 530.5 570.5 529 572.5 528.5 576.4 524.5 579.2 518.5Z"/>
<path class="c" d="M776.8 580 779.5 578.9 781 579 790 582.5 794 586 794.7 589 794.7 592 796 598 793 612.7 789.1 617.5 785.6 623.5 785.3 626.5 784 627.3 782.5 627.1 781.6 629.5 780.2 631 778.3 637 775 639.4 773.5 639.5 769 637.4 761.5 635 760 635.1 758.5 636 748 635.2 746.5 637.5 746 640 746.7 641.5 745.8 644.5 746.1 647.5 745 649 744.9 652 745.1 653.5 747 658 747 659.5 745.1 665.5 745.3 668.5 744.7 670 744.8 673 743 676 742.2 680.5 740.9 683.5 741.6 697 740.6 700 739.4 701.5 737.5 702.3 734.5 704.7 732.2 707.5 730 711.4 724 717 722.5 717.6 719.5 720.2 715 723.1 713.5 723.7 710.5 723.1 707.5 725.3 706.6 727 707 731.5 705.5 734.5 702.4 737.5 701.7 740.5 704.5 745 706.6 760 703 764.5 702.6 766 701.4 767.5 699.6 775 697 780.3 693.9 784 693.2 785.5 693 790 691.3 794.5 686.2 800.5 685.5 802 686.4 809.5 686.4 811 685.2 814 685.8 815.5 685 817.5 683.4 818.5 682.2 821.5 680.5 822.9 677.5 824.9 674.5 825.8 671.5 826 664 826 650.2 823 647.9 818.5 645.7 817 641.5 812.3 632.5 808.6 628 806.2 622 804.6 613 800.9 605.5 801.1 601 800 596.5 800.2 595 800.7 592 802.8 581 808 577 811.6 574 813.3 572.5 815.2 569.5 817.1 559 817 553 817.4 544 819.4 541 818.7 538 817 535 817 532 816.1 529 816.1 526 814 523 813.8 515.5 808.5 509.5 805 508 802 506.4 800.5 503.5 792.6 505.4 788.5 505.7 785.5 512.5 778.6 522 763 523.7 755.5 524 751 522.7 746.5 522.4 740.5 524.5 737.6 527.5 735.3 530.5 735.6 535 730.6 538 729.3 541.7 725.5 544 720.2 546.7 716.5 547 713.1 548.5 711.9 551.5 711.7 553 711.1 557.2 704.5 557.7 701.5 559 700.3 562 699.7 563.5 698.9 567 694 568.4 691 570 689.5 571.8 685 577 679.2 580 677.5 586 672.6 589.2 671.5 594 661 599.5 658 602.5 657.3 612.6 647.5 616.9 638.5 617 635.5 616 632.4 613.3 629.5 612.6 626.5 610.9 623.5 610 620.5 610 614.5 610.5 613 611.5 612.4 613 612.5 616 609.4 619 610.2 621.8 610 623.5 606 625 605.9 626.5 606.6 632.5 613.6 635.5 614.5 640 616.7 647.5 617.5 652 619.8 654.4 622 659.5 625.2 662.5 624.6 664 624.9 668.5 629 673 630.5 676 629.5 677.5 629.8 680.7 631 683.5 632.9 685 630.5 689.5 631.5 690.8 631 692.5 629.4 694 629.1 697 628.9 700 629.6 703 628.9 704.5 629.6 709 629.1 716.5 629.3 724 627.1 728.5 627.7 731.5 627.6 734.5 626.6 735.6 625 736.5 620.5 735 617.5 733 615.5 728.5 612.5 724 611.4 719.5 612.6 715 611.2 712.5 605.5 712.4 599.5 711.6 598 708.7 595 708.3 592 709 590.3 713.5 588.5 716.5 589.7 727 592.1 730 593.7 731.5 593.7 736 591.9 740.5 588.9 742 587.1 749.5 585.2 752.5 583.3 758.5 582.7 760 583.2 763 582.3 766 582.2 770.5 582.5Z"/>
<path class="c" d="M625 777.9 623.5 778.3 620.8 781 618.7 787 619.2 788.5 621.5 790 625 791.5 628 795.1 640 799.4 643 799.9 649 799.3 652.3 797.5 653.8 791.5 652.9 790 646.6 787 643 785.9 640 783.6 636.3 782.5 629.5 778.1Z"/>
<path class="c" d="M579 523 580 522 581.5 521.9 586.6 526 588 529 588.3 532 589.2 533.5 587.8 536.5 587.6 538 584.7 544 580 545.9 577 546.2 575.1 544 573.6 539.5 574.4 538 574.5 536.5 572.7 532 573.2 530.5Z"/>
<path class="c" d="M779.1 581.5 781 581.1 782.5 581.6 784.9 583 786 584.5 789.5 586 792.4 590.5 794.4 596.5 794.4 598 792.5 604 792.5 605.5 790.5 613 789.7 614.5 787 616.8 784 618.6 782 619 781.7 620.5 782.2 622 781.5 625 778.5 629.5 778 631.3 775 636.6 773.5 636.7 770.5 635.8 767.5 632.6 766 632.1 760 632.6 757 633.8 755.5 633.8 751 631.6 748 631.2 746.5 631.4 744.1 634 744 640 744.6 643 743.5 652 745.5 659.5 745.3 661 743.7 664 743.4 673 739.1 683.5 739.6 686.5 739.2 692.5 739.7 694 739.5 695.5 738.2 698.5 730.9 706 729.6 709 727.6 712 724 715.2 720.7 716.5 718 718.8 715 719.3 711.6 721 706 722.1 704.5 723.9 703.2 728.5 703.6 731.5 703.3 733 699.8 734.5 698.9 736 698.9 737.5 699.6 742 702.1 745 703 748 704.4 755.5 705.4 758.5 705.2 760 701.6 764.5 699.5 769 698 775 696.7 776.5 695.5 779.8 694 781.3 689.5 783.4 689 784 690.7 788.5 690.4 790 689.5 792.6 687.3 796 683.4 800.5 683.2 802 684.4 809.5 684.2 811 682.9 812.5 682.2 815.5 681 817 680.4 821.5 677.5 824.2 673 825.4 667 825.4 664 825.2 656.1 823 655.1 821.5 655.7 820 655.2 818.5 653 815.5 652.6 814 653.4 811 652.6 806.5 650.6 803.5 651.1 802 655 800.8 656.2 799 656.7 797.5 656.7 793 656.4 791.5 655.5 790 650.5 786 643 783.3 641.5 780.8 640 779.8 634 777.4 632.5 775.6 631 774.9 628 775.5 623.5 774.2 622 771.4 614.5 767.5 612.9 767.5 612.6 770.5 608.9 773.5 605.5 778.2 600.5 788.5 599.7 791.5 598.5 793 590.5 799.5 583 802.7 575.5 808.4 565 813.8 562 813.5 553 814.2 548.2 815.5 545.5 816.7 544 816.7 536.5 813.4 529 812.5 527.5 811.1 526 810.7 523 810.9 521.5 810 520.2 808 515.9 803.5 511 800.9 507.7 794.5 507.4 793 508.7 790 508.8 787 512.5 784.2 514 782.4 515.6 778 519.1 773.5 520.7 769 523.1 766 524.9 758.5 526 751 525 743.5 525.7 740.5 529 737.7 532 736.9 538.2 733 542.5 727.8 544.9 722.5 549.1 716.5 550 714.1 553.2 713.5 559.2 706 559.4 703 560.9 701.5 564.6 700 568 694.8 569.5 691.6 572.3 688 572.6 686.5 574 684.2 576.5 682 577.4 680.5 583 676.3 590.9 671.5 595 662.3 599.5 659.2 603.9 658 605.5 656.1 610 652.4 616.2 644.5 617.3 641.5 618.3 640 618.5 635.5 617.6 632.5 614.5 628.3 611.6 622 611.5 618.2 612.1 616 613 614.5 616 612.6 617.5 613.2 619 613 623.5 610.9 625 609.4 626.5 609.4 631.9 614.5 635.5 616.6 641.5 618.4 646 618.7 649 620.8 654.3 623.5 658 626.6 662.5 627.6 665.2 629.5 671.5 632.7 676 632.6 677.5 631.8 679 632.1 681.2 634 683.5 634.9 686.5 633.7 688 634.1 689.8 634 694 632 697 632.4 700 631.9 706 632.9 712 630.4 718 630.1 722.5 628.5 733 628.5 736 627.8 738.2 623.5 738.3 620.5 734.5 615.2 728.5 610.9 725.5 610.1 721 610.3 717.4 608.5 716.6 607 717.1 604 716 602.5 715.6 598 715 596.5 715.3 595 718 593.9 722.5 595 724 595.7 726.3 598 728.5 599.4 733 600 737.7 596.5 740.8 592 745 588.4 752.5 587.2 758.5 585.1 767.5 583.9 772 584.2 776.5 582.1Z"/>
<path class="c" d="M587.5 741.7 587.2 743.5 589.4 746.5 590.7 749.5 590.7 755.5 594.9 761.5 598 764.6 601 765.1 605.5 763.8 607 764 610 763.5 610 762 608.5 758.8 607 757.9 605.5 758.3 605 757 603.3 755.5 602.5 753.4 601.5 752.5 599.5 752.2 598 751.1 592 745.8 589 742Z"/>
<path class="c" d="M580 524.5 581.5 524.8 583 526.2 584 527.5 584.3 529 584.3 533.5 583 536.8 581.5 537.6 578.5 537.1 577 535.9 575.8 532 575.9 530.5 577 527.5Z"/>
<path class="c" d="M775.6 584.5 776.5 584.1 779.5 584.1 781 583.5 788.3 589 789.5 590.5 792.5 596.5 790.2 604 790 608.8 786.5 614.5 784.7 616 779.3 619 778.4 620.5 778.3 625 776.5 627.2 775.2 628 775 629.5 774.5 628 773.5 627.8 772.9 629.5 770.1 631 769 631.1 763 629.9 757 630.7 746.5 628.5 743.5 630 741.3 632.5 741.4 635.5 742.2 638.5 741.5 643 742.6 647.5 742.4 652 743.6 661 742.5 664 741.9 673 740.5 677 738.5 680.5 737.7 683.5 737.7 691 736.4 697 735.8 698.5 727 706.7 725.5 710.6 721 713.9 719.5 714.9 718 715.2 716.5 714.8 715.1 713.5 713.5 712.8 712.4 713.5 712.3 715 710.5 718.6 704.5 720.6 702.7 722.5 700.9 728.5 700 729.6 697 731.2 697.1 736 696.1 739 701.4 748 701.8 749.5 701.6 754 703.8 758.5 703.3 760 700.8 763 700 766 696.8 772 696 775 694.2 778 691 778.9 687 784 687.7 791.5 686.5 794.2 684.2 796 681.3 800.5 682.2 809.5 681.4 811 679.1 820 677.5 823.1 674.8 824.5 673 824.9 667 824.7 664 824.3 661.2 823 659.6 821.5 658 817.4 656.4 815.5 656 812.5 657.1 808 657.2 805 658.2 803.5 660.2 802 663 797.5 663.1 796 662.5 795.1 659.5 792.7 657.9 790 653.5 785.5 651.2 784 647.2 782.5 638.5 775.3 629.5 771.3 626.5 771.5 621.2 767.5 620.5 766.4 614.5 763.3 612.1 757 612 755.5 610.6 754 610 752.3 602.5 750.3 599.5 747.6 598 747.5 592 742.1 591.1 740.5 590.5 740.3 589 738.4 587.5 737.5 584.9 742 585.2 743.5 587.5 746.5 588 748 587.8 751 583.7 758.5 583.4 763 586 764.1 590.5 768.1 591.6 772 593.4 775 593.5 776.5 591.5 785.5 591.8 788.5 589 793.2 586 795.9 581.5 797.7 578.5 801.3 575.3 803.5 572.5 806.1 560.5 811.3 553 811.7 548.5 813.1 544 813.4 539.5 812.2 536.5 810.5 524.5 807.9 522.5 806.5 521.4 803.5 517 799.8 513.2 794.5 513.3 788.5 513.5 787 517 782.8 518.5 779.5 521.5 776.1 523.5 772 524.7 764.5 527.4 757 528.9 746.5 528.5 743.5 529 740.8 530.5 739.5 536.5 737 539.5 735 541 732.2 544.1 728.5 547 722.6 551.5 716.5 554.5 715 557.5 710.2 561.5 706 563.2 703 565 702.9 566.6 701.5 567.4 700 567.4 698.5 570.7 692.5 572.3 691 572.7 689.5 575.3 685 577 683.5 578.5 681.4 583.4 677.5 587.2 676 592.5 671.5 594.5 668.5 596.7 662.5 599.5 660.6 604 659.5 608.5 656.5 618 644.5 619.7 641.5 620.4 638.5 619.5 634 615.7 628 612.9 622 612.8 619 614.5 615.5 616 614.9 620.5 614.2 622 613.2 625 612.5 628 613.2 634.4 617.5 641.5 620 644.5 619.8 646 620.5 647.5 622.1 653.5 624.6 658 627.9 661 628.9 664 631.1 667 631.9 670 633.8 673 634.6 676 634.6 677.5 633.8 680.6 635.5 683.5 636.1 686.5 635.3 688 635.7 690.2 635.5 694 634.4 697 634.2 698.5 633.5 703 633.6 706 634.3 712 631.4 716.5 631.3 722.5 629.9 725.5 630.2 736 629.4 737.5 628.8 741 623.5 741.4 622 740.9 620.5 740.1 619 734.5 613 728.5 609 723 607 722.6 605.5 723 604 724 603.5 725.5 603.6 730 604.8 734.5 603.4 736 601.7 740.5 598.6 742 595.9 746.9 590.5 749.5 590 752.5 590.1 760 586.7 761.5 586.8 763 587.5 766 585.9 773.5 585.5Z"/>
<path class="c" d="M768.1 587.5 770.5 586.8 773.5 587 776.5 586.5 779.5 587.5 782.5 587.7 785.6 590.5 788.7 596.5 788.4 599.5 787.3 602.5 787.6 608.5 787 610 783.9 614.5 782.5 615.5 777.7 617.5 776.5 619.8 774.5 622 774.7 623.5 773.5 624.6 769 626.7 767.5 628.3 764.5 627.9 758.5 628.3 751 626.6 746.5 624.1 746.1 623.5 747 619 746.5 615.7 745 614.5 740.7 613 736.1 608.5 736.5 607 738.6 604 743.5 600 745.1 598 746.5 594.9 751 592.7 755.5 592.3 757 591.1 760 589.9 763 589.6Z"/>
<path class="c" d="M617.8 616 620.5 616.1 623.5 614.8 628 614.8 640 621.3 641.5 621.9 644.5 621.5 649 624.1 652 625.2 659.5 630.2 664 632.5 667 633.5 670 635.2 676 636.7 677.5 636.5 680.5 637.1 688 637 701.5 635 706 635.4 713.5 632.3 722.5 631.2 725.5 631.6 728.5 631.4 731.5 630.6 739 631 740.3 638.5 739.4 644.5 741.6 653.5 741.1 658 741.5 662.5 740 670 740.1 673 738.6 677.5 737.4 679 735.2 688 734.8 697 733.6 698.5 731.3 700 729 703 721 710.3 716.5 711.6 713.5 711.3 711.2 712 709 713.8 708.4 715 708.8 716.5 707.5 717.8 704.5 718.2 701.8 719.5 700.2 721 699.7 722.5 698.5 722.8 695.5 726 694.5 731.5 695 733 694.6 737.5 695.2 742 696.8 746.5 698.5 747.5 699.8 749.5 699 754 702 758.5 701.5 760 700 761.7 698.5 766 695.3 770.5 694 774.3 687.5 779.5 686.9 781 684.6 784 684.2 785.5 684.7 790 684.5 793 681.3 796 679.5 800.5 680.7 808 679.2 812.5 678.2 814 678.1 818.5 677.1 820 676.9 821.5 676 822.9 673 824.2 668.5 824.2 663.3 823 662.5 821.5 662.7 820 662 817 659.8 814 659.7 809.5 663.3 803.5 665.5 801.8 666.7 799 666.7 796 664.2 791.5 661 790.1 653.5 782.9 649.8 781 649 780 646 778.8 643 775.8 638.5 772.9 635.5 771.7 632.5 769.5 626.7 769 625 767.8 623.2 766 620.5 761.3 617.5 759.9 615.3 755.5 608.5 747.6 607 746.9 602.5 747 601 744.3 598 744 597.5 743.5 598 741.3 599.5 742.8 600.1 742 599.7 740.5 599.9 739 599.1 737.5 598 736.9 595 738.8 593.2 737.5 592 735.1 590.5 733.4 589 733.4 586 735.4 582.1 740.5 581.4 742 581.9 743.5 584 745 584.8 746.5 584.9 749.5 584.5 750.9 582.5 752.5 580.8 755.5 577 758.3 576 760 576.7 763 576.2 764.5 577.3 767.5 577.4 769 579.4 770.5 581.5 773 584.7 775 585.8 779.5 585.9 782.5 584.5 787.5 578.3 793 575.3 797.5 572.3 800.5 568 803 563.5 806.4 560.5 807.7 556 808.3 553 807.7 548.5 809.9 545.5 810.6 541 810 539.5 809.3 538 807.8 535 807.6 530.5 806.6 529 805.7 523 797.4 516.8 793 517 791 520.7 781 526.3 773.5 526.9 770.5 526.6 767.5 527.7 764.5 528.2 760 529.8 755.5 530.1 752.5 530.9 751 532.4 742 533.5 741.1 535.4 740.5 538 738.5 539.5 738.2 541 737.3 542.8 733 545.3 730 551.5 719.5 553 717.9 558.2 715 559.1 713.5 559.4 710.5 561.5 707.5 568 702.9 568.9 701.5 569.4 698.5 570.5 697 571.7 694 574 691.2 574 689.5 577 685.6 580 683.5 581.9 680.5 584.5 678.3 589 676.5 590.6 674.5 593.5 672.7 597.3 667 597.7 664 598.7 662.5 602.5 661.1 605.5 660.7 607.8 659.5 610 657.6 612.9 653.5 617.5 648.5 620.2 644.5 621.9 640 621.1 634 616 625.6 614.8 620.5 615.5 617.5Z"/>
<path class="c" d="M768.1 589 770.5 588.1 778 589.3 780.7 590.5 781.1 592 782.5 594 785.5 595.6 785.7 596.5 784.1 598 785.8 601 785 604 785.2 608.5 784.7 610 782.5 613 779.5 614.4 776.5 616.7 772 622.2 766 623.9 760 626.4 753.2 625 749.4 622 749.2 616 748.2 613 748.2 610 746.1 604 746.7 602.5 750 596.5 751 595.6 755.5 594.7 758.5 592.8 760 592.7 764.5 591Z"/>
<path class="c" d="M620.5 617.5 623.5 616.3 628 616.7 631 618.4 635.5 620 638.2 622 643 624.3 647.5 624.7 652 626.3 661 632.5 674.5 638.4 685 638.9 688 638.3 697 637.7 701.5 636.6 704.5 636.8 713.5 633.3 722.5 632.4 725.5 632.8 731.5 632.1 736 632.8 738.3 635.5 738.5 640 737.7 644.5 740.5 653.5 739.5 656.5 740 662.5 738.3 667 737.8 670 737.9 673 737.1 676 735.4 679 735.4 682 732.5 686.5 733.6 694 733.2 695.5 728.5 701.3 725.5 703.5 724 705.3 719 707.5 716.5 709.6 715 710.1 712 710.1 709 711.5 704.5 715.5 701.5 716.9 698.5 718.9 693.8 725.5 692.5 731.5 692.8 736 693.6 739 693.4 742 694.6 746.5 697.5 751 697.2 752.5 697.9 755.5 700 758.5 698.5 759.9 698.5 761.5 697 765.1 693.8 769 690.2 775 685.9 778 683.4 781 682.2 785.5 682.8 790 682 791.8 680.5 792.3 679 792 677 793 676.4 797.5 677.9 802 678.6 806.5 678.2 809.5 678 811 676.3 814 675.2 817 674.9 820 675.4 821.5 673 823.4 667 823.3 666 823 664.5 821.5 664.6 817 663.7 814 663.8 812.5 667.6 808 668.5 805.6 670.8 802 671 800.5 670.4 796 669.2 793 668 791.5 662.5 787.3 658 783 656.7 781 656.4 779.5 656.8 778 659.6 773.5 659.4 766 655 758.5 653.4 749.5 652.7 746.5 652 745.5 649 743.3 644.5 742.1 640 743.6 637 745.5 631 746 630.3 746.5 629.6 749.5 631.8 754 639.4 761.5 641.7 764.5 642.1 767.5 643.6 769 638.5 769.1 632.5 766.5 629.5 766.2 628 765.2 625 764.6 623.5 759.9 617.1 752.5 614.5 748 614.5 746 619 744.8 620.1 743.5 620.8 740.5 620.2 739 611.5 729.6 607 725.9 604 724.2 601 723.4 599.5 723.5 598 724.6 593.5 729.5 590.5 729.7 587.5 730.6 586.4 731.5 584.5 734.3 580 739.5 578.7 740.5 578.5 742 579.8 745 576.9 748 576.4 751 577.2 754 571.7 760 570 763 571 769 572.5 773.1 576.7 778 576.3 779.5 577.1 782.5 576.9 784 575.5 785.7 571.2 788.5 571.1 790 568.7 796 565.6 799 558.4 803.5 557.5 803.8 554.5 802.7 553 802.9 547 806.7 542.5 807.4 541 807.2 538 805.2 534.4 805 532 803.5 529 799.8 526.8 796 524.5 794.7 523.9 793 522.4 791.5 523 789.4 524.5 789.4 524.9 788.5 523.9 785.5 525.2 779.5 528.9 775 529.6 773.5 529.9 769 530.7 766 530.5 761.4 532.2 757 533.5 751 533.5 749.4 535.4 746.5 535.8 745 536.5 744.5 539.5 744 544.5 739 547.7 731.5 553 721.4 560.8 715 561.1 710.5 562 708.7 566.3 706 568 705.5 569.5 703.9 572.5 696.8 575.4 694 575.9 691 577.1 688 578.5 686.5 581.5 684.8 583 682 584.5 680.3 586 679.3 587.5 679.1 589 679.5 590.5 678.5 592.5 676 596.3 673 601 665.5 610.6 661 614.5 655 617.5 652.4 619 650.1 621.7 647.5 622.7 646 623.4 644.5 623.6 641.5 622.8 634 619.8 629.5 619 626.4 617.5 623.5 617 620.5 617.7 619Z"/>
<path class="c" d="M770.4 590.5 772 590.1 775 592.3 776.5 592.7 783.5 601 782.6 610 781.5 611.5 778 613.8 770.5 620.2 763 623.7 760 624.4 758.5 624 755.5 622 752.5 621.1 751.9 620.5 751.3 617.5 751.3 608.5 750.6 605.5 750.6 601 753 598 757.4 595 761.5 593.7 766 592.9Z"/>
<path class="c" d="M620.6 619 623.5 617.5 625 617.5 632.8 620.5 637 623.3 640 624.1 644.5 626.5 650.5 627.4 653.2 629.5 655 629.8 656.5 631.2 661 633.6 668.6 637 671.5 638.9 674.7 640 680.5 640.3 697 639.5 700 638.3 706 637.4 710.5 635.2 714.6 634 718 633.7 724 634.1 727 633.5 730 633.5 734.5 634.4 736.3 635.5 737 637 736.4 646 738.1 652 737.8 656.5 738.8 659.5 738.7 661 737.1 664 736.3 667 735.9 671.5 734.8 674.5 733.8 682 730.9 685 730.4 686.5 731.7 691 731.9 694 730.4 697 728.5 699.1 721.5 704.5 704.5 711.9 700 714.9 693.2 722.5 690.3 730 690.1 731.5 691.8 739 691.3 742 691.6 743.5 692.6 746.5 695.6 751 696.5 755.5 696.3 758.5 697 761.5 694 766.3 692 767.5 691 770.5 688 772 682.1 779.5 681.3 781 680.8 784 679.9 785.5 680.7 788.5 679 789.6 674.5 790.5 673 790.1 671.5 788.3 669.2 782.5 670.6 778 670.7 770.5 670.3 766 671.7 761.5 671.8 757 671.4 755.5 672.2 749.5 675.8 742 677 736 676 733.5 671.5 729.6 664 726.9 661.1 724 657 718 653.5 716 652 716.4 650.5 717.8 647.4 722.5 644.7 725.5 640 728.5 637 729.4 632.5 729.9 628 729.2 623.5 727.6 618.3 724 615.6 721 612.5 716.5 607.2 706 603.8 703 603.1 701.5 601.8 697 601.4 688 600.2 686.5 603 673 605.5 669.4 608.5 668.6 610 666.9 613 666.9 614 665.5 613.9 664 616 658.6 619.3 656.5 620.5 653.9 623.5 650 625.8 646 624.5 634 620.7 628 619.1 620.5Z"/>
<path class="c" d="M582.1 688 583 686.9 584.5 686.9 584.9 688 586.5 689.5 586.2 691 584.5 692.1 581.5 692.3 580.3 691 580.5 689.5Z"/>
<path class="c" d="M565.3 710.5 566.5 709.4 569.5 710.4 572.2 715 572.1 718 571 719.5 568.2 721 568 721.8 569.3 727 568.9 730 568 731.3 565 732 564.6 733 565.1 734.5 564.2 736 564.2 737.5 565.2 739 568 739.5 569.5 741.2 569.9 745 571.3 749.5 572.2 751 566.5 760.1 565 761.5 563 764.5 562.4 766 562 770.2 560.5 770.4 557.5 767.9 556 767.6 551.5 768.6 548.5 767.7 547 768.3 545.5 768.1 542.5 766.7 541 766.7 539.5 765.8 536.5 760.4 536.5 758 537.2 755.5 538.1 754 541 751.4 547 750.3 553 746.1 554.1 745 556.5 740.5 560 736 562.3 734.5 562.8 733 560.6 728.5 562 724 563.7 722.5 566.2 718 566.5 716.5 565.6 713.5 563.4 712Z"/>
<path class="c" d="M534.8 773.5 536.5 772.3 538 772.3 539.5 772.6 542.5 774.7 542.7 775 539.5 780.3 533.5 781 532.6 779.5 532.7 778Z"/>
<path class="c" d="M539.5 787 541 786.1 542.5 786.3 547 788.3 550 790.2 551.3 791.5 551.9 793 552.1 796 551.5 796.9 548.1 799 545.5 801.9 542.5 803.2 541 803.1 538.6 802 539.1 800.5 538 799.6 535 798.7 533.9 796 535.6 791.5Z"/>
<path class="c" d="M668.1 820 668.5 819.6 668.6 820 670 820.6 673 821 673.5 821.5 670 822.9 668.5 822.7 666.7 821.5 667 820.6Z"/>
<path class="c" d="M759.1 596.5 761.5 595.6 766 596.3 775 595.9 780.6 601 781.3 602.5 781 608.5 778.9 611.5 769.8 619 763 622 761.5 622.2 759.4 622 757 619.8 754 618.6 753.4 616 753 605.5 754.6 601 756.4 598Z"/>
<path class="c" d="M622 620.5 623.5 619.6 625 619.4 632.5 622.6 635.5 624.5 637 625 638.5 624.8 644.5 628 649 628.9 665.5 637 670 640 676 641.5 682 642.1 692.5 641.5 704.5 638.8 710.5 636.2 715 635 718 634.9 722.5 635.5 728.5 634.5 733 635.5 734.5 636.4 735.1 637 735.2 638.5 734.8 649 736.6 653.5 736.4 658 737.5 659.5 737.5 661 735.8 662.5 734.9 664 733.9 667 734.5 670.6 733.4 673 732.4 679 731.5 682 729.1 685 729.1 688 730.4 691 730 693.9 728.6 697 718 704.3 712 705.1 709 707.6 704.5 709.5 694.5 716.5 691 720.8 688 722.5 682 720.7 674.5 717.1 670 712.9 664 705 658 701.5 653.5 700.4 649 700.7 644.5 702.9 643 704.2 638.7 706 633.6 713.5 631 715.7 628 716 625.7 715 623.6 712 623.4 709 623.5 707.5 624.3 706 626.7 703 627 701.5 626.6 698.5 625.4 695.5 623.5 693.6 621.3 692.5 621 689.5 618.1 686.5 617.5 682.9 614.5 679.9 613.4 676 615.4 671.5 617.9 668.5 618.6 664 620.5 660.1 625 656.9 626.4 655 626.5 653.5 625.6 650.5 627.4 647.5 627.7 646 626 638.5 625.9 634 623.6 631 621.5 626.5Z"/>
<path class="c" d="M687.5 742 688 740.6 688.5 743.5 691 746.1 692.3 749.5 694.7 754 694.8 755.5 694.1 757 694.7 761.5 694 762.4 692.5 763 689.5 761.1 686.5 760.9 685 761.4 682 761 680.5 759.4 679.1 755.5 679.3 751 680.2 749.5 682 748.5 685 748.3 685.7 745Z"/>
<path class="c" d="M761.2 599.5 761.9 599.5 763 600.9 765 599.5 767.5 598.8 770.5 599.8 775 600 778 602.5 779.2 604 779.4 605.5 776.5 611.3 770.5 616.6 767.5 618.5 763 619.6 760 618.7 756 616 755.1 611.5 755.1 605.5 756.6 601 757 600.5 760 600.2Z"/>
<path class="c" d="M624.1 622 625 621.8 629.5 623.1 635.5 626.3 638.5 626.5 644.5 629.9 647.5 629.7 650.5 631.5 653.5 632.3 655 633.6 665.5 638.4 667.1 640 669.6 641.5 671.5 642.2 677 643 679 643.8 685 643.9 686.5 644.5 692.5 643.3 697 641.8 701.5 641 712 636.6 718 636.1 721 636.8 728.5 635.6 732.6 637 733.3 638.5 732.5 647.5 733.8 652 734.9 653.5 734.6 658 735.2 659.5 734.9 661 732.9 662.5 731.9 664 731.8 667 732.4 670 731.4 671.5 731.7 674.5 730 677.5 727.4 685 727.4 688 728.1 691 725.5 696.2 722.5 696 721 697.2 719.5 699.6 716.8 701.5 715 701.9 711.4 701.5 703 706.4 698.5 707.3 689.5 710.1 685 710.4 680.5 709.2 677.2 707.5 675.4 706 670.8 700 668.5 698.1 658 692.5 649 688.9 647 686.5 646.9 682 646.5 680.5 644.5 679 643.7 677.5 642.9 673 643 668.5 642.6 667 641.6 665.5 639.3 664 638.4 662.5 635.5 660.8 634 658.8 630.4 656.5 630 650.5 630.9 647.5 630.2 646 629.4 641.5 628.2 640 627.7 638.5 627.2 634 626.4 632.5 624.6 631 622.7 626.5 623 623.5 623.5 622.3Z"/>
<path class="c" d="M689.4 748 691.8 752.5 691.9 758.5 691 759.6 688.9 758.5 687.7 754 687.8 752.5Z"/>
<path class="c" d="M765.8 602.5 770.5 602.7 773.5 603.7 775 605.5 775.6 605.5 775.1 607 772.7 610 772 613 767.5 616.8 766 617.5 764.5 617.4 760 615.3 757.6 613 757.5 611.5 757.9 605.5 760 604.1 764.5 604.1Z"/>
<path class="c" d="M624.5 625 625 624.2 626.5 623.8 629.5 624.6 635.5 627.9 638.5 628.5 640 629.9 644.5 632 647.5 631.4 649 633.5 652 633.3 653.5 634 655 635.2 656.5 635.5 658 637 664 639.5 665.6 641.5 671.5 644.4 674.5 644.2 679 646 683.5 645.5 686.5 646.6 694.1 644.5 697 643 703 641.8 712 637.8 718 637.4 722.5 638 727 637.2 728.5 637.3 730 638.2 731.4 641.5 731.4 643 730.4 647.5 730.5 649 732.4 655 730.9 658 730.6 661 729.5 662.5 728.5 665.5 728.6 667 730.1 670 729.5 671.5 729.9 673 729.5 674.5 727 676 725 688 724 689.5 721 691.8 715 695.4 710.5 696.4 704.5 696 698.5 692.3 695.5 692.1 693.6 692.5 691 696.9 688 698.3 685 698.6 680.5 695.9 676 690.6 667 687.8 664 685.9 658.8 683.5 653.5 679.6 651.8 677.5 649.8 676 649 674.5 649.1 673 647.2 670 646.4 665.5 645.1 664 644.8 662.5 643.7 661 641.8 659.5 641.1 658 640 657.1 638.5 656.5 634.3 653.5 633.2 647.5 629.9 637 628 632.4 625.3 629.5 624.4 626.5Z"/>
<path class="c" d="M761 608.5 761.5 608 763 608 768.2 610 769.2 611.5 768.9 613 767.5 614.8 766 615.4 764.5 614.6 760.9 611.5 760.6 610Z"/>
<path class="c" d="M628.5 628 629.5 627.2 631 627.1 634 629.2 638.5 630.8 643 634.1 646 634.2 649 635.6 652 635 653 635.5 655 637.9 659.5 640.3 661 640.5 663.6 643 667 643.4 671.5 645.6 674.5 645.8 679 648.5 683.5 649.7 685 649.1 688 649.5 692.5 646.5 695.5 645.5 697 644.4 707.5 641.7 710.5 639.7 718 638.5 721 639.4 727 639.6 727.8 640 728.7 641.5 728.7 644.5 727.6 649 727.6 653.5 726 659.5 725.9 665.5 725.9 667 727.1 670 727 671.5 724.4 674.5 724 675.8 722.3 677.5 723.7 683.5 719.5 688.3 713.5 691.7 710.5 691.6 709 691 706 691.4 703 688.9 701.5 688.3 698.5 688.3 695.5 686.1 694 686.3 692.5 687.9 689.5 688.5 685.4 688 683.1 686.5 680.5 686 677.5 684.1 674.5 684.2 668.5 680.6 665.5 680.4 661 678.6 659.5 677.7 658 675.5 655 673.3 650.9 667 649.5 662.5 644.6 656.5 641.5 653.4 638.5 651.7 636.3 649 632.5 640 632 637 630.3 634 630.1 631 628.9 629.5Z"/>
<path class="c" d="M639.1 637 643 637 650.5 639.4 652 639.2 655 640.8 658 641.8 662.5 644.7 667 644.9 671.5 646.9 674.5 647.6 679 650.1 682 651.2 685 651.2 688 652 689.5 651.4 694 647.8 698.5 646 700 644.8 704.5 643.6 707.5 643.4 710.5 641.3 713.5 641.5 716.5 639.8 718 640 720.8 641.5 722.5 643.4 724 644.2 725.3 646 721.6 655 722.4 658 721.8 659.5 722 661 724 670 719.8 676 718.4 682 715 684.7 712 686.1 710.5 686.2 707.5 684.9 704.5 684.7 700 682.4 700 680.4 698.5 678.7 695.5 679.9 691 679.4 688 680.4 685 679.8 683.5 679 682 678.9 679 677.7 677.5 677.7 673 679.1 671.5 677.3 664 676 662.6 674.5 659.9 673 657.6 670 655.9 665.5 655.8 662.5 655 661 650.5 657.4 646 652.2 641.6 649 639.2 646 638.5 644.5 638.5 641 637.8 640 635.3 638.5 635.5 637.1Z"/>
<path class="c" d="M648.5 644.5 653.5 643.6 656.5 645.3 662.5 646.7 667 646.5 669.8 647.5 671.5 648.8 676 650 677.5 651.4 680.5 653 685 654.2 688 654.4 689.5 654.1 693.1 652 694 650 695.5 649 698.5 648.3 700 647.5 701.5 645.7 707.5 645.3 710.5 643.2 712 643.3 712.9 644.5 714.3 647.5 714.3 649 715.3 650.5 715.8 653.5 715.9 659.5 713.8 662.5 713.7 664 712 665.9 710.8 665.5 710.5 664.6 709 664.6 706.6 665.5 706.6 668.5 706 669 703 669.4 697 666.4 695.5 666.3 692.1 667 689.5 669.4 688 669.4 686.5 668.4 685 668.7 683.4 670 683.2 671.5 682 672.4 680.5 672 679 670.4 677.5 669.6 673 670 671.5 671.3 670 671.7 667 671.1 665.5 671.8 664 671.8 662.6 670 661.2 665.5 662.2 664 662.4 662.5 659.5 658.9 656.6 656.5 655.8 655 652 651.5 650.3 650.5 648.5 646Z"/>
<path class="c" style="stroke-opacity:.75;stroke-width:.6" d="M709.6 390.0 709.1 392.2 706.5 393.8 703.6 393.4 703.0 391.3 704.7 389.1 707.4 389.4Z"/>
<path class="c" style="stroke-opacity:.75;stroke-width:.6" d="M716.9 389.2 715.9 391.8 713.7 391.8 712.2 389.9 713.4 387.5 714.8 385.9 716.4 387.0Z"/>
<path class="c" style="stroke-opacity:.75;stroke-width:.6" d="M709.8 383.8 708.5 384.6 707.1 383.7 706.3 382.5 706.9 381.4 708.5 380.9 709.9 382.3Z"/>
<path class="c" style="stroke-opacity:.75;stroke-width:.6" d="M700.2 388.0 700.0 389.6 699.0 389.5 698.1 388.8 698.3 387.3 699.0 386.6 700.1 386.4Z"/>
<path class="c" style="stroke-opacity:.75;stroke-width:.6" d="M697.9 402.2 697.6 403.5 696.2 405.0 694.0 404.9 694.0 403.4 694.7 401.8 696.9 401.4Z"/>
<path class="c" style="stroke-opacity:.75;stroke-width:.6" d="M736.2 445.9 735.6 447.6 734.3 449.8 732.2 450.7 731.2 450.1 732.4 447.8 734.5 446.4Z"/>
<path class="c" style="stroke-opacity:.75;stroke-width:.6" d="M778.8 442.3 778.9 443.6 778.1 444.9 776.8 445.4 775.9 445.0 776.2 443.4 777.6 442.6Z"/>
<path class="c" style="stroke-opacity:.75;stroke-width:.6" d="M774.9 455.4 773.8 457.1 772.5 457.3 771.4 456.1 772.0 453.8 773.3 452.7 774.5 453.3Z"/>
<path class="c" style="stroke-opacity:.75;stroke-width:.6" d="M781.0 456.2 780.4 457.9 779.4 459.6 778.1 457.8 777.1 456.0 778.0 454.2 779.6 455.0Z"/>
<path class="c" style="stroke-opacity:.75;stroke-width:.6" d="M789.4 450.3 788.7 451.6 787.6 452.1 787.0 450.9 787.0 449.7 787.7 448.8 788.9 448.6Z"/>
<path class="c" style="stroke-opacity:.75;stroke-width:.6" d="M797.6 444.2 797.4 445.3 796.4 445.7 795.6 444.9 795.9 443.7 796.5 443.0 797.3 443.2Z"/>
<path class="c" style="stroke-opacity:.75;stroke-width:.6" d="M806.3 465.5 804.7 466.6 803.2 467.1 802.7 465.2 803.7 462.8 805.3 462.8 806.8 463.0Z"/>
<path class="c" style="stroke-opacity:.75;stroke-width:.6" d="M811.8 463.3 810.8 464.7 809.5 464.9 808.9 463.3 810.1 461.4 811.6 460.1 812.4 461.4Z"/>
<path class="c" style="stroke-opacity:.75;stroke-width:.6" d="M778.4 390.3 778.4 392.0 777.3 392.6 776.2 391.9 775.6 390.5 775.8 388.7 777.4 388.4Z"/>
<path class="c" style="stroke-opacity:.75;stroke-width:.6" d="M773.1 388.0 772.7 388.6 771.9 389.2 771.3 388.4 771.3 387.6 772.0 387.1 772.8 387.2Z"/>
<path class="c" style="stroke-opacity:.75;stroke-width:.6" d="M712.3 434.3 711.8 435.1 711.0 435.2 710.5 434.6 710.1 433.8 711.0 433.5 711.8 433.5Z"/>
<path class="c" style="stroke-opacity:.75;stroke-width:.6" d="M714.4 435.9 713.5 436.7 712.5 437.2 711.3 436.5 711.5 435.3 712.4 434.6 713.5 435.1Z"/>
<path class="c" style="stroke-opacity:.75;stroke-width:.6" d="M947.8 264.5 946.2 266.1 943.9 266.9 943.0 264.4 943.5 262.0 945.6 260.2 947.9 261.7Z"/>
<path class="c" style="stroke-opacity:.75;stroke-width:.6" d="M945.5 274.3 944.0 275.8 942.5 276.0 941.6 274.5 942.3 272.4 943.7 271.7 944.9 272.3Z"/>
<path class="c" style="stroke-opacity:.75;stroke-width:.6" d="M949.4 258.4 949.2 259.1 948.3 259.6 947.5 258.9 947.6 257.9 948.4 257.4 949.2 257.7Z"/>
<path class="c" style="stroke-opacity:.75;stroke-width:.6" d="M957.8 245.4 957.6 246.2 956.7 246.7 956.0 246.0 956.2 244.9 956.7 244.1 957.7 244.3Z"/>
<path class="c" style="stroke-opacity:.75;stroke-width:.6" d="M959.5 242.2 959.1 243.0 958.2 243.3 957.6 242.6 957.4 241.7 958.2 241.3 959.0 241.4Z"/>
<path class="c" style="stroke-opacity:.75;stroke-width:.6" d="M956.5 231.1 956.1 231.9 955.2 232.0 954.3 231.6 954.4 230.6 955.2 230.1 955.9 230.5Z"/>
<path class="c" style="stroke-opacity:.75;stroke-width:.6" d="M614.0 371.4 612.6 372.8 610.2 373.5 608.2 372.3 607.8 370.4 610.2 369.3 613.0 369.6Z"/>
<path class="c" style="stroke-opacity:.75;stroke-width:.6" d="M642.4 367.0 641.8 368.3 640.0 368.7 638.4 367.8 638.8 366.4 640.0 365.2 641.9 365.5Z"/>
<path class="c" style="stroke-opacity:.75;stroke-width:.6" d="M649.3 365.4 648.6 366.9 646.6 367.3 645.3 366.1 645.3 364.7 646.7 364.1 648.5 364.0Z"/>
<path class="c" style="stroke-opacity:.75;stroke-width:.6" d="M626.0 387.2 626.2 389.4 625.5 390.5 624.0 389.6 622.9 387.3 623.5 386.0 624.5 385.4Z"/>
<path class="c" style="stroke-opacity:.75;stroke-width:.6" d="M631.1 388.7 629.9 389.7 628.0 389.2 626.8 387.9 627.2 386.4 629.1 386.2 630.9 387.1Z"/>
<path class="c" style="stroke-opacity:.75;stroke-width:.6" d="M639.4 393.6 639.0 394.1 638.1 394.4 637.2 394.0 637.5 393.3 638.1 392.8 639.2 392.9Z"/>
<path class="c" style="stroke-opacity:.75;stroke-width:.6" d="M640.3 398.4 640.1 399.2 639.3 399.3 638.8 398.7 638.7 398.0 639.3 397.5 640.0 397.7Z"/>
<path class="c" style="stroke-opacity:.75;stroke-width:.6" d="M901.2 532.7 900.8 534.1 900.1 534.8 899.4 533.6 899.4 531.7 900.1 530.5 900.9 531.2Z"/>
<path class="c" style="stroke-opacity:.75;stroke-width:.6" d="M933.2 561.1 932.1 561.8 931.1 562.2 930.2 561.6 930.1 560.6 931.1 560.1 932.5 560.0Z"/>
<path class="c" style="stroke-opacity:.75;stroke-width:.6" d="M980.3 598.4 979.8 599.1 978.9 599.6 978.3 598.8 978.1 597.9 979.0 597.3 980.0 597.4Z"/>
<path class="c" style="stroke-opacity:.75;stroke-width:.6" d="M851.2 451.6 850.5 453.0 849.2 453.1 848.1 452.4 848.2 450.9 849.2 450.1 850.2 450.5Z"/>
<path class="c" style="stroke-opacity:.75;stroke-width:.6" d="M909.9 438.1 909.5 438.9 908.6 439.3 907.8 438.6 908.0 437.6 908.7 437.2 909.6 437.2Z"/>
<path class="c" style="stroke-opacity:.75;stroke-width:.6" d="M872.4 471.1 872.1 471.7 871.4 472.1 870.7 471.6 870.8 470.7 871.4 470.1 872.3 470.2Z"/>
<path class="c" style="stroke-opacity:.75;stroke-width:.6" d="M563.9 437.2 563.6 438.0 562.8 438.1 562.2 437.6 561.9 436.7 562.8 436.3 563.7 436.3Z"/>
<path class="c" style="stroke-opacity:.75;stroke-width:.6" d="M563.7 443.4 563.1 444.3 562.2 444.4 561.2 444.0 561.4 442.9 562.2 442.4 563.0 442.6Z"/>
<path class="c" style="stroke-opacity:.75;stroke-width:.6" d="M688.3 534.4 687.1 536.0 685.5 536.2 684.1 535.3 684.4 533.7 685.4 532.3 687.1 532.9Z"/>
<path class="c" style="stroke-opacity:.75;stroke-width:.6" d="M685.1 413.5 685.0 414.1 684.3 414.3 684.0 413.7 683.9 413.2 684.4 412.9 685.0 412.8Z"/>
<path class="c" style="stroke-opacity:.75;stroke-width:.6" d="M720.8 443.6 720.4 444.1 719.9 444.2 719.5 443.9 719.2 443.2 719.9 443.0 720.5 443.0Z"/>
<path class="c" style="stroke-opacity:.75;stroke-width:.6" d="M753.4 463.9 753.2 464.5 752.5 464.6 752.0 464.2 752.2 463.6 752.5 463.1 753.1 463.4Z"/>
<path class="c" style="stroke-opacity:.75;stroke-width:.6" d="M772.3 463.9 772.0 464.4 771.5 464.5 771.0 464.2 771.0 463.6 771.5 463.3 772.1 463.3Z"/>
<path class="c" style="stroke-opacity:.75;stroke-width:.6" d="M929.1 434.9 928.7 435.3 928.3 435.5 927.8 435.2 927.7 434.5 928.2 434.1 928.8 434.3Z"/>
<path class="c" style="stroke-opacity:.75;stroke-width:.6" d="M852.8 459.2 852.7 459.8 852.0 459.9 851.5 459.5 851.5 458.9 852.0 458.5 852.6 458.7Z"/>
<path class="c" style="stroke-opacity:.75;stroke-width:.6" d="M846.2 464.3 845.8 464.8 845.3 464.9 844.7 464.7 844.9 464.0 845.3 463.7 845.9 463.7Z"/>
<path class="c" style="stroke-opacity:.75;stroke-width:.6" d="M752.8 464.3 752.7 464.9 752.0 465.0 751.6 464.6 751.6 464.0 752.0 463.5 752.7 463.7Z"/>
<path class="c" style="stroke-opacity:.75;stroke-width:.6" d="M772.2 464.6 772.0 465.1 771.4 465.3 771.0 464.9 771.0 464.3 771.5 464.0 772.1 464.0Z"/>
<path class="c" style="stroke-opacity:.75;stroke-width:.6" d="M747.6 481.4 747.2 481.8 746.7 482.0 746.1 481.7 746.1 481.1 746.6 480.7 747.1 481.0Z"/>
<path class="c" style="stroke-opacity:.75;stroke-width:.6" d="M770.5 479.5 770.2 480.2 769.5 480.3 769.0 479.8 769.2 479.3 769.5 478.7 770.1 479.0Z"/>
<path class="c" style="stroke-opacity:.75;stroke-width:.6" d="M778.0 481.9 777.8 482.6 777.1 482.6 776.8 482.2 776.7 481.6 777.1 481.1 777.7 481.4Z"/>
<path class="c" style="stroke-opacity:.75;stroke-width:.6" d="M973.9 395.7 973.6 396.2 973.1 396.3 972.5 396.0 972.7 395.5 973.1 395.1 973.6 395.2Z"/>
<path class="c" style="stroke-opacity:.75;stroke-width:.6" d="M796.0 542.2 795.8 542.6 795.2 542.9 794.7 542.5 794.7 541.8 795.3 541.6 795.8 541.7Z"/>
<path class="c" style="stroke-opacity:.75;stroke-width:.6" d="M979.2 181.9 979.1 182.5 978.4 182.6 977.8 182.3 978.0 181.6 978.5 181.4 979.1 181.3Z"/>
<path class="c" style="stroke-opacity:.75;stroke-width:.6" d="M956.3 191.4 956.2 192.0 955.5 192.1 955.0 191.8 955.1 191.1 955.5 190.7 956.1 190.9Z"/>
<path class="c" style="stroke-opacity:.75;stroke-width:.6" d="M955.6 379.2 955.3 379.7 954.7 380.0 954.3 379.5 954.4 378.9 954.8 378.6 955.3 378.7Z"/>
<path class="c" style="stroke-opacity:.75;stroke-width:.6" d="M963.8 146.4 963.4 146.9 962.8 147.1 962.3 146.7 962.5 146.2 962.8 145.7 963.4 146.0Z"/>
<path class="c" style="stroke-opacity:.75;stroke-width:.6" d="M653.5 363.0 653.4 363.6 652.8 363.6 652.2 363.4 652.3 362.7 652.8 362.4 653.4 362.4Z"/>
<path class="c" style="stroke-opacity:.75;stroke-width:.6" d="M656.0 379.9 655.9 380.5 655.3 380.4 654.9 380.2 654.6 379.5 655.2 379.2 655.8 379.4Z"/>
<path class="c" style="stroke-opacity:.75;stroke-width:.6" d="M587.9 408.1 587.8 408.8 587.1 408.8 586.6 408.4 586.8 407.8 587.1 407.4 587.7 407.6Z"/>
<path class="c" style="stroke-opacity:.75;stroke-width:.6" d="M713.1 435.2 712.9 435.7 712.3 435.9 711.9 435.5 711.9 434.9 712.4 434.6 713.0 434.6Z"/>
<path class="c" style="stroke-opacity:.75;stroke-width:.6" d="M685.4 413.2 685.2 413.8 684.5 413.9 684.0 413.6 684.1 412.9 684.5 412.5 685.2 412.6Z"/>
<path class="c" style="stroke-opacity:.75;stroke-width:.6" d="M439.4 756.5 439.0 757.0 438.5 757.1 438.1 756.7 438.1 756.2 438.5 756.0 439.1 755.9Z"/>
<path class="c" style="stroke-opacity:.75;stroke-width:.6" d="M421.0 775.4 420.8 776.0 420.2 775.9 419.7 775.7 419.6 775.0 420.1 774.7 420.7 774.9Z"/>
<path class="b" d="M929.6 145 L938.7 193.5 L935.3 240 L933.8 275.3 L932.4 299.3 L897.5 381.4 L866.3 417.8 L856.9 421.3 L840 422.3 L819.5 423 L809.2 415.6 L786 394 L780.5 399 L818.7 436.8 L802.1 454.9 L789.9 445.8 L794.4 439.5 L752.6 404.8 L749.4 409.8 L763.8 422.2 L768.8 421 L788.1 438.1 L776.9 450.1 L772.4 449.8 L766.1 457.9 L711.6 414 L730 396.8 L737.6 402.4 L740.4 401.2 L736 396.4 L739.6 394.4 L730.4 386 L718 384.4 L722 390.8 L705.6 406 L692.8 391.6 L710.8 376 L716.4 377.6 L718.8 373.2 L718.4 368 L742.9 359.1 L743.5 360.5 L718.6 368.7 L692.8 374 L687.6 380.8 L680 378 L674.6 376.4 L670.8 368.1 L660.3 365.4 L631.8 370.9 L627.4 372 L618.6 374.7 L610.9 373.6 L608.1 394 L609.8 398.4 L609.2 400.5 L603.2 400.3 L596.6 403.8 L593.3 408.2 L581.7 415 L576.1 420.6 L572.3 431.2 L566.1 439.9 L564.9 451.1 L551.1 456.7 L533.7 468.6 L532.4 477.3 L534.9 479.8 L531.2 481.7 L537.4 489.2 L524.9 497.3 L527.4 510 L535.5 523.1 L535.5 539.9 L528.7 551.1 L519.9 553 L515.6 556.1 L514.3 564.9 L518.7 571.1 L531.2 576.1 L536.8 583 L537.4 594.8 L533.7 603.5 L528.2 607.5 L529.2 614.4 L536.4 623.9 L536.8 629.9 L530.4 634.7 L520.8 635.9 L519.6 647.8 L518.4 651.4 L523.2 656.2 L520.8 659.8 L523.9 664.6 L517.2 675.4 L517.2 694.5 L493.3 722 L428.7 771 L417.9 783.7 L418.7 805.7 L413.2 825"/>
</g>
<circle class="d" cx="581.5" cy="418" r="3.3"/>
<text class="s" x="588" y="417.8">SHL: 16.9 C</text>
<circle class="d" cx="626.5" cy="450" r="3.3"/>
<text class="s" x="633" y="449.8">SHT: 17.3 C</text>
<circle class="d" cx="577.3" cy="541.2" r="3.3"/>
<text class="s" x="583.8" y="541">LHT: 14.8 C</text>
<circle class="d" cx="524.6" cy="563.2" r="3.3"/>
<text class="s" x="531.1" y="563">LHL: 15.4 C</text>
<circle class="d" cx="806.5" cy="591" r="3.3"/>
<text class="s" x="813" y="590.8">BTO: 17.8 C</text>
<circle class="d" cx="643.5" cy="636" r="3.3"/>
<text class="s" x="650" y="635.8">GUT: 12.9 C</text>
<circle class="d" cx="665.5" cy="644" r="3.3"/>
<text class="s" x="672" y="664.5">TMT: 12.3 C</text>
<circle class="d" cx="681.5" cy="774" r="3.3"/>
<text class="s" x="688" y="773.8">OHT: 13.4 C</text>
<rect x="62.5" y="145.5" width="930" height="679" fill="none" stroke="#000" stroke-width="1.1"/>
<text class="k" text-anchor="end" x="54.6" y="211.3">33.86°S</text>
<text class="k" text-anchor="end" x="54.6" y="299.3">33.88°S</text>
<text class="k" text-anchor="end" x="54.6" y="387.3">33.9°S</text>
<text class="k" text-anchor="end" x="54.6" y="475.3">33.92°S</text>
<text class="k" text-anchor="end" x="54.6" y="563.3">33.94°S</text>
<text class="k" text-anchor="end" x="54.6" y="651.3">33.96°S</text>
<text class="k" text-anchor="end" x="54.6" y="739.3">33.98°S</text>
<text class="k" text-anchor="end" transform="translate(79.4 833.5) rotate(-90)">18.25°E</text>
<text class="k" text-anchor="end" transform="translate(262.4 833.5) rotate(-90)">18.3°E</text>
<text class="k" text-anchor="end" transform="translate(445.4 833.5) rotate(-90)">18.35°E</text>
<text class="k" text-anchor="end" transform="translate(628.4 833.5) rotate(-90)">18.4°E</text>
<text class="k" text-anchor="end" transform="translate(811.4 833.5) rotate(-90)">18.45°E</text>
<g>
<rect x="155.2" y="879.5" width="31.5" height="30" fill="#0000EB"/>
<rect x="186.2" y="879.5" width="31.5" height="30" fill="#0038EB"/>
<rect x="217.2" y="879.5" width="31.5" height="30" fill="#0070EB"/>
<rect x="248.2" y="879.5" width="31.5" height="30" fill="#00A8EB"/>
<rect x="279.2" y="879.5" width="31.5" height="30" fill="#00D8EB"/>
<rect x="310.2" y="879.5" width="31.5" height="30" fill="#00DCC8"/>
<rect x="341.2" y="879.5" width="31.5" height="30" fill="#00D296"/>
<rect x="372.2" y="879.5" width="31.5" height="30" fill="#00BE64"/>
<rect x="403.2" y="879.5" width="31.5" height="30" fill="#00AF28"/>
<rect x="434.2" y="879.5" width="31.5" height="30" fill="#1EAF0A"/>
<rect x="465.2" y="879.5" width="31.5" height="30" fill="#50B800"/>
<rect x="496.2" y="879.5" width="31.5" height="30" fill="#82C800"/>
<rect x="527.2" y="879.5" width="31.5" height="30" fill="#B4DC00"/>
<rect x="558.2" y="879.5" width="31.5" height="30" fill="#DCE000"/>
<rect x="589.2" y="879.5" width="31.5" height="30" fill="#EBD800"/>
<rect x="620.2" y="879.5" width="31.5" height="30" fill="#EDC400"/>
<rect x="651.2" y="879.5" width="31.5" height="30" fill="#EDB400"/>
<rect x="682.2" y="879.5" width="31.5" height="30" fill="#EDA000"/>
<rect x="713.2" y="879.5" width="31.5" height="30" fill="#EB8200"/>
<rect x="744.2" y="879.5" width="31.5" height="30" fill="#EB5F00"/>
<rect x="775.2" y="879.5" width="31.5" height="30" fill="#EB3C00"/>
<rect x="806.2" y="879.5" width="31.5" height="30" fill="#E91A03"/>
<rect x="837.2" y="879.5" width="31.5" height="30" fill="#DC0000"/>
<rect x="868.2" y="879.5" width="31.3" height="30" fill="#BE001E"/>
</g>
<rect x="155.5" y="879.5" width="744" height="30" fill="none" stroke="#000" stroke-width="1.1"/>
<path d="M155.5 909.5v4.9M186.5 909.5v2.8M217.5 909.5v4.9M248.5 909.5v2.8M279.5 909.5v4.9M310.5 909.5v2.8M341.5 909.5v4.9M372.5 909.5v2.8M403.5 909.5v4.9M434.5 909.5v2.8M465.5 909.5v4.9M496.5 909.5v2.8M527.5 909.5v4.9M558.5 909.5v2.8M589.5 909.5v4.9M620.5 909.5v2.8M651.5 909.5v4.9M682.5 909.5v2.8M713.5 909.5v4.9M744.5 909.5v2.8M775.5 909.5v4.9M806.5 909.5v2.8M837.5 909.5v4.9M868.5 909.5v2.8M899.5 909.5v4.9" stroke="#000" stroke-width="1.1" fill="none"/>
<text class="t" x="154.8" y="929.6">5.25</text>
<text class="t" x="216.8" y="929.6">6.75</text>
<text class="t" x="278.8" y="929.6">8.25</text>
<text class="t" x="340.8" y="929.6">9.75</text>
<text class="t" x="402.8" y="929.6">11.25</text>
<text class="t" x="464.8" y="929.6">12.75</text>
<text class="t" x="526.8" y="929.6">14.25</text>
<text class="t" x="588.8" y="929.6">15.75</text>
<text class="t" x="650.8" y="929.6">17.25</text>
<text class="t" x="712.8" y="929.6">18.75</text>
<text class="t" x="774.8" y="929.6">20.25</text>
<text class="t" x="836.8" y="929.6">21.75</text>
<text class="t" x="898.8" y="929.6">23.25</text>
<text class="t" x="526.8" y="949">sfctemp [C]</text>
</svg></body></html>
